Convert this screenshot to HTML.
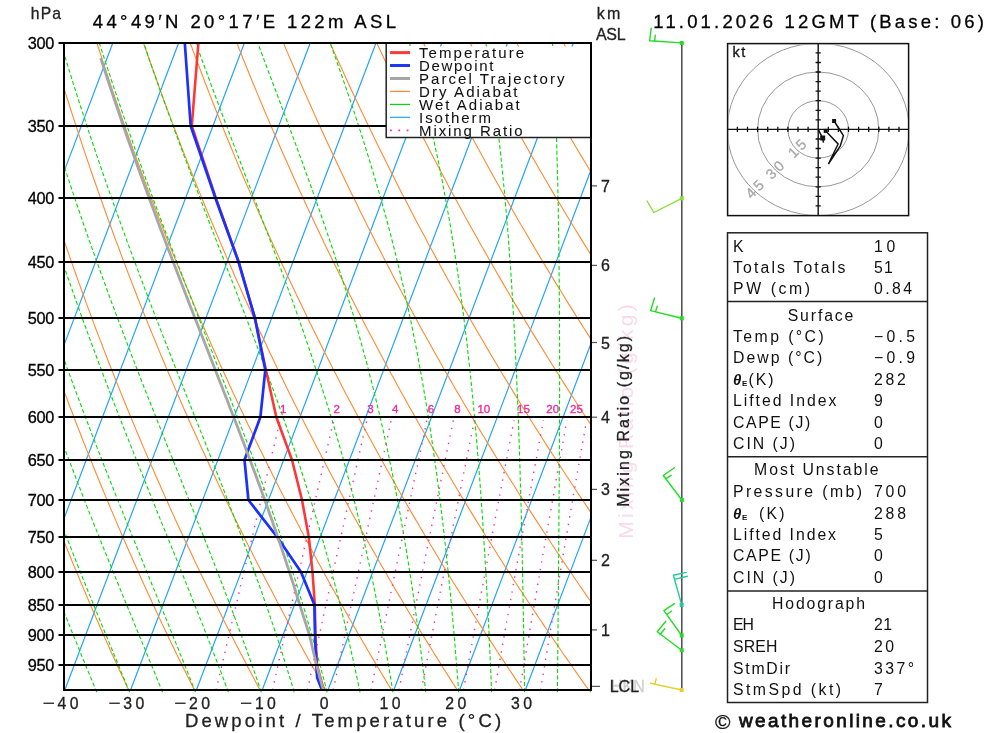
<!DOCTYPE html>
<html><head><meta charset="utf-8"><style>
html,body{margin:0;padding:0;background:#fff;width:1000px;height:733px;overflow:hidden}
svg{display:block;will-change:transform}
text{font-family:"Liberation Sans",sans-serif}
</style></head><body>
<svg width="1000" height="733" viewBox="0 0 1000 733">
<rect width="1000" height="733" fill="#fff"/>
<path d="M64.0 171.6 L112.8 43.0 M64.0 345.1 L178.6 43.0 M64.0 518.6 L244.4 43.0 M65.0 689.5 L310.2 43.0 M130.8 689.5 L376.0 43.0 M196.6 689.5 L441.8 43.0 M262.4 689.5 L507.6 43.0 M328.2 689.5 L573.4 43.0 M394.0 689.5 L590.5 171.3 M459.8 689.5 L590.5 344.8 M525.6 689.5 L590.5 518.4" stroke="#22a4ff" stroke-width="1.2" fill="none"/>
<path d="M128.7 690.0 L128.5 689.6 L127.2 686.9 L125.9 684.2 L124.7 681.4 L123.4 678.6 L122.1 675.9 L120.8 673.1 L119.5 670.3 L118.2 667.5 L117.0 664.6 L115.7 661.8 L114.4 658.9 L113.1 656.1 L111.7 653.2 L110.4 650.3 L109.1 647.3 L107.8 644.4 L106.5 641.4 L105.2 638.5 L103.8 635.5 L102.5 632.5 L101.2 629.5 L99.8 626.4 L98.5 623.4 L97.2 620.3 L95.8 617.2 L94.5 614.1 L93.1 611.0 L91.7 607.8 L90.4 604.7 L89.0 601.5 L87.6 598.3 L86.3 595.1 L84.9 591.8 L83.5 588.6 L82.1 585.3 L80.7 582.0 L79.4 578.7 L78.0 575.3 L76.6 572.0 L75.2 568.6 L73.7 565.2 L72.3 561.8 L70.9 558.3 L69.5 554.8 L68.1 551.3 L66.6 547.8 L65.2 544.3 L64.0 541.3 M194.4 690.0 L194.2 689.6 L192.8 686.9 L191.5 684.2 L190.1 681.4 L188.7 678.6 L187.3 675.9 L186.0 673.1 L184.6 670.3 L183.2 667.5 L181.8 664.6 L180.4 661.8 L179.0 658.9 L177.6 656.1 L176.2 653.2 L174.8 650.3 L173.4 647.3 L172.0 644.4 L170.5 641.4 L169.1 638.5 L167.7 635.5 L166.3 632.5 L164.8 629.5 L163.4 626.4 L161.9 623.4 L160.5 620.3 L159.0 617.2 L157.6 614.1 L156.1 611.0 L154.7 607.8 L153.2 604.7 L151.7 601.5 L150.3 598.3 L148.8 595.1 L147.3 591.8 L145.8 588.6 L144.3 585.3 L142.8 582.0 L141.3 578.7 L139.8 575.3 L138.3 572.0 L136.8 568.6 L135.3 565.2 L133.7 561.8 L132.2 558.3 L130.7 554.8 L129.1 551.3 L127.6 547.8 L126.0 544.3 L124.5 540.7 L122.9 537.2 L121.4 533.5 L119.8 529.9 L118.2 526.3 L116.7 522.6 L115.1 518.9 L113.5 515.1 L111.9 511.4 L110.3 507.6 L108.7 503.8 L107.1 499.9 L105.5 496.1 L103.9 492.2 L102.2 488.3 L100.6 484.3 L99.0 480.3 L97.3 476.3 L95.7 472.3 L94.1 468.2 L92.4 464.1 L90.7 460.0 L89.1 455.8 L87.4 451.6 L85.7 447.4 L84.0 443.1 L82.3 438.8 L80.7 434.5 L79.0 430.1 L77.2 425.7 L75.5 421.3 L73.8 416.8 L72.1 412.3 L70.3 407.8 L68.6 403.2 L66.9 398.5 L65.1 393.9 L64.0 390.9 M260.1 690.0 L259.9 689.6 L258.4 686.9 L257.0 684.2 L255.5 681.4 L254.0 678.6 L252.6 675.9 L251.1 673.1 L249.6 670.3 L248.1 667.5 L246.6 664.6 L245.1 661.8 L243.7 658.9 L242.2 656.1 L240.6 653.2 L239.1 650.3 L237.6 647.3 L236.1 644.4 L234.6 641.4 L233.1 638.5 L231.5 635.5 L230.0 632.5 L228.5 629.5 L226.9 626.4 L225.4 623.4 L223.8 620.3 L222.3 617.2 L220.7 614.1 L219.2 611.0 L217.6 607.8 L216.0 604.7 L214.4 601.5 L212.9 598.3 L211.3 595.1 L209.7 591.8 L208.1 588.6 L206.5 585.3 L204.9 582.0 L203.3 578.7 L201.6 575.3 L200.0 572.0 L198.4 568.6 L196.8 565.2 L195.1 561.8 L193.5 558.3 L191.9 554.8 L190.2 551.3 L188.5 547.8 L186.9 544.3 L185.2 540.7 L183.5 537.2 L181.9 533.5 L180.2 529.9 L178.5 526.3 L176.8 522.6 L175.1 518.9 L173.4 515.1 L171.7 511.4 L170.0 507.6 L168.3 503.8 L166.5 499.9 L164.8 496.1 L163.1 492.2 L161.3 488.3 L159.6 484.3 L157.8 480.3 L156.0 476.3 L154.3 472.3 L152.5 468.2 L150.7 464.1 L148.9 460.0 L147.1 455.8 L145.3 451.6 L143.5 447.4 L141.7 443.1 L139.9 438.8 L138.1 434.5 L136.2 430.1 L134.4 425.7 L132.5 421.3 L130.7 416.8 L128.8 412.3 L126.9 407.8 L125.1 403.2 L123.2 398.5 L121.3 393.9 L119.4 389.2 L117.5 384.4 L115.6 379.6 L113.7 374.8 L111.7 369.9 L109.8 365.0 L107.8 360.0 L105.9 355.0 L103.9 349.9 L102.0 344.8 L100.0 339.6 L98.0 334.4 L96.0 329.2 L94.0 323.9 L92.0 318.5 L90.0 313.1 L88.0 307.6 L85.9 302.1 L83.9 296.5 L81.8 290.8 L79.8 285.1 L77.7 279.4 L75.6 273.5 L73.5 267.6 L71.4 261.7 L69.3 255.6 L67.2 249.5 L65.1 243.4 L64.0 240.2 M325.8 690.0 L325.6 689.6 L324.0 686.9 L322.5 684.2 L320.9 681.4 L319.4 678.6 L317.8 675.9 L316.2 673.1 L314.6 670.3 L313.1 667.5 L311.5 664.6 L309.9 661.8 L308.3 658.9 L306.7 656.1 L305.1 653.2 L303.5 650.3 L301.9 647.3 L300.3 644.4 L298.6 641.4 L297.0 638.5 L295.4 635.5 L293.8 632.5 L292.1 629.5 L290.5 626.4 L288.8 623.4 L287.2 620.3 L285.5 617.2 L283.8 614.1 L282.2 611.0 L280.5 607.8 L278.8 604.7 L277.1 601.5 L275.5 598.3 L273.8 595.1 L272.1 591.8 L270.4 588.6 L268.7 585.3 L266.9 582.0 L265.2 578.7 L263.5 575.3 L261.8 572.0 L260.0 568.6 L258.3 565.2 L256.5 561.8 L254.8 558.3 L253.0 554.8 L251.3 551.3 L249.5 547.8 L247.7 544.3 L245.9 540.7 L244.2 537.2 L242.4 533.5 L240.6 529.9 L238.8 526.3 L236.9 522.6 L235.1 518.9 L233.3 515.1 L231.5 511.4 L229.6 507.6 L227.8 503.8 L225.9 499.9 L224.1 496.1 L222.2 492.2 L220.4 488.3 L218.5 484.3 L216.6 480.3 L214.7 476.3 L212.8 472.3 L210.9 468.2 L209.0 464.1 L207.1 460.0 L205.2 455.8 L203.2 451.6 L201.3 447.4 L199.4 443.1 L197.4 438.8 L195.5 434.5 L193.5 430.1 L191.5 425.7 L189.5 421.3 L187.5 416.8 L185.5 412.3 L183.5 407.8 L181.5 403.2 L179.5 398.5 L177.5 393.9 L175.4 389.2 L173.4 384.4 L171.3 379.6 L169.3 374.8 L167.2 369.9 L165.1 365.0 L163.0 360.0 L160.9 355.0 L158.8 349.9 L156.7 344.8 L154.6 339.6 L152.4 334.4 L150.3 329.2 L148.1 323.9 L146.0 318.5 L143.8 313.1 L141.6 307.6 L139.4 302.1 L137.2 296.5 L135.0 290.8 L132.8 285.1 L130.6 279.4 L128.3 273.5 L126.1 267.6 L123.8 261.7 L121.5 255.6 L119.3 249.5 L117.0 243.4 L114.6 237.1 L112.3 230.8 L110.0 224.5 L107.7 218.0 L105.3 211.5 L102.9 204.8 L100.6 198.1 L98.2 191.4 L95.8 184.5 L93.3 177.5 L90.9 170.5 L88.5 163.3 L86.0 156.1 L83.6 148.8 L81.1 141.3 L78.6 133.8 L76.1 126.1 L73.6 118.4 L71.0 110.5 L68.5 102.5 L65.9 94.4 L64.0 88.3 M391.5 690.0 L391.3 689.6 L389.7 686.9 L388.0 684.2 L386.3 681.4 L384.7 678.6 L383.0 675.9 L381.4 673.1 L379.7 670.3 L378.0 667.5 L376.3 664.6 L374.6 661.8 L372.9 658.9 L371.2 656.1 L369.5 653.2 L367.8 650.3 L366.1 647.3 L364.4 644.4 L362.7 641.4 L361.0 638.5 L359.2 635.5 L357.5 632.5 L355.8 629.5 L354.0 626.4 L352.3 623.4 L350.5 620.3 L348.7 617.2 L347.0 614.1 L345.2 611.0 L343.4 607.8 L341.6 604.7 L339.9 601.5 L338.1 598.3 L336.3 595.1 L334.5 591.8 L332.6 588.6 L330.8 585.3 L329.0 582.0 L327.2 578.7 L325.3 575.3 L323.5 572.0 L321.7 568.6 L319.8 565.2 L317.9 561.8 L316.1 558.3 L314.2 554.8 L312.3 551.3 L310.4 547.8 L308.6 544.3 L306.7 540.7 L304.8 537.2 L302.9 533.5 L300.9 529.9 L299.0 526.3 L297.1 522.6 L295.2 518.9 L293.2 515.1 L291.3 511.4 L289.3 507.6 L287.3 503.8 L285.4 499.9 L283.4 496.1 L281.4 492.2 L279.4 488.3 L277.4 484.3 L275.4 480.3 L273.4 476.3 L271.4 472.3 L269.4 468.2 L267.3 464.1 L265.3 460.0 L263.2 455.8 L261.2 451.6 L259.1 447.4 L257.0 443.1 L254.9 438.8 L252.9 434.5 L250.8 430.1 L248.6 425.7 L246.5 421.3 L244.4 416.8 L242.3 412.3 L240.1 407.8 L238.0 403.2 L235.8 398.5 L233.6 393.9 L231.5 389.2 L229.3 384.4 L227.1 379.6 L224.9 374.8 L222.7 369.9 L220.4 365.0 L218.2 360.0 L216.0 355.0 L213.7 349.9 L211.4 344.8 L209.2 339.6 L206.9 334.4 L204.6 329.2 L202.3 323.9 L200.0 318.5 L197.6 313.1 L195.3 307.6 L193.0 302.1 L190.6 296.5 L188.2 290.8 L185.8 285.1 L183.4 279.4 L181.0 273.5 L178.6 267.6 L176.2 261.7 L173.7 255.6 L171.3 249.5 L168.8 243.4 L166.3 237.1 L163.9 230.8 L161.4 224.5 L158.8 218.0 L156.3 211.5 L153.8 204.8 L151.2 198.1 L148.6 191.4 L146.0 184.5 L143.4 177.5 L140.8 170.5 L138.2 163.3 L135.6 156.1 L132.9 148.8 L130.2 141.3 L127.5 133.8 L124.8 126.1 L122.1 118.4 L119.4 110.5 L116.6 102.5 L113.9 94.4 L111.1 86.2 L108.3 77.8 L105.4 69.3 L102.6 60.7 L99.8 51.9 L96.9 43.0 L96.9 43.0 M457.3 690.0 L457.0 689.6 L455.3 686.9 L453.5 684.2 L451.8 681.4 L450.0 678.6 L448.3 675.9 L446.5 673.1 L444.7 670.3 L442.9 667.5 L441.2 664.6 L439.4 661.8 L437.6 658.9 L435.8 656.1 L434.0 653.2 L432.2 650.3 L430.4 647.3 L428.6 644.4 L426.7 641.4 L424.9 638.5 L423.1 635.5 L421.2 632.5 L419.4 629.5 L417.6 626.4 L415.7 623.4 L413.8 620.3 L412.0 617.2 L410.1 614.1 L408.2 611.0 L406.3 607.8 L404.5 604.7 L402.6 601.5 L400.7 598.3 L398.8 595.1 L396.8 591.8 L394.9 588.6 L393.0 585.3 L391.1 582.0 L389.1 578.7 L387.2 575.3 L385.2 572.0 L383.3 568.6 L381.3 565.2 L379.3 561.8 L377.4 558.3 L375.4 554.8 L373.4 551.3 L371.4 547.8 L369.4 544.3 L367.4 540.7 L365.4 537.2 L363.3 533.5 L361.3 529.9 L359.3 526.3 L357.2 522.6 L355.2 518.9 L353.1 515.1 L351.0 511.4 L349.0 507.6 L346.9 503.8 L344.8 499.9 L342.7 496.1 L340.6 492.2 L338.5 488.3 L336.4 484.3 L334.2 480.3 L332.1 476.3 L329.9 472.3 L327.8 468.2 L325.6 464.1 L323.5 460.0 L321.3 455.8 L319.1 451.6 L316.9 447.4 L314.7 443.1 L312.5 438.8 L310.3 434.5 L308.0 430.1 L305.8 425.7 L303.5 421.3 L301.3 416.8 L299.0 412.3 L296.7 407.8 L294.4 403.2 L292.1 398.5 L289.8 393.9 L287.5 389.2 L285.2 384.4 L282.8 379.6 L280.5 374.8 L278.1 369.9 L275.8 365.0 L273.4 360.0 L271.0 355.0 L268.6 349.9 L266.2 344.8 L263.8 339.6 L261.3 334.4 L258.9 329.2 L256.4 323.9 L253.9 318.5 L251.5 313.1 L249.0 307.6 L246.5 302.1 L243.9 296.5 L241.4 290.8 L238.9 285.1 L236.3 279.4 L233.7 273.5 L231.2 267.6 L228.6 261.7 L226.0 255.6 L223.3 249.5 L220.7 243.4 L218.1 237.1 L215.4 230.8 L212.7 224.5 L210.0 218.0 L207.3 211.5 L204.6 204.8 L201.8 198.1 L199.1 191.4 L196.3 184.5 L193.5 177.5 L190.7 170.5 L187.9 163.3 L185.1 156.1 L182.2 148.8 L179.4 141.3 L176.5 133.8 L173.6 126.1 L170.7 118.4 L167.7 110.5 L164.8 102.5 L161.8 94.4 L158.8 86.2 L155.8 77.8 L152.8 69.3 L149.7 60.7 L146.6 51.9 L143.5 43.0 L143.5 43.0 M523.0 690.0 L522.7 689.6 L520.9 686.9 L519.0 684.2 L517.2 681.4 L515.3 678.6 L513.5 675.9 L511.6 673.1 L509.8 670.3 L507.9 667.5 L506.0 664.6 L504.1 661.8 L502.2 658.9 L500.3 656.1 L498.4 653.2 L496.5 650.3 L494.6 647.3 L492.7 644.4 L490.8 641.4 L488.9 638.5 L486.9 635.5 L485.0 632.5 L483.1 629.5 L481.1 626.4 L479.1 623.4 L477.2 620.3 L475.2 617.2 L473.2 614.1 L471.3 611.0 L469.3 607.8 L467.3 604.7 L465.3 601.5 L463.3 598.3 L461.3 595.1 L459.2 591.8 L457.2 588.6 L455.2 585.3 L453.1 582.0 L451.1 578.7 L449.0 575.3 L447.0 572.0 L444.9 568.6 L442.8 565.2 L440.7 561.8 L438.7 558.3 L436.6 554.8 L434.5 551.3 L432.4 547.8 L430.2 544.3 L428.1 540.7 L426.0 537.2 L423.8 533.5 L421.7 529.9 L419.5 526.3 L417.4 522.6 L415.2 518.9 L413.0 515.1 L410.8 511.4 L408.6 507.6 L406.4 503.8 L404.2 499.9 L402.0 496.1 L399.8 492.2 L397.5 488.3 L395.3 484.3 L393.0 480.3 L390.8 476.3 L388.5 472.3 L386.2 468.2 L383.9 464.1 L381.6 460.0 L379.3 455.8 L377.0 451.6 L374.7 447.4 L372.4 443.1 L370.0 438.8 L367.7 434.5 L365.3 430.1 L362.9 425.7 L360.5 421.3 L358.1 416.8 L355.7 412.3 L353.3 407.8 L350.9 403.2 L348.4 398.5 L346.0 393.9 L343.5 389.2 L341.1 384.4 L338.6 379.6 L336.1 374.8 L333.6 369.9 L331.1 365.0 L328.6 360.0 L326.0 355.0 L323.5 349.9 L320.9 344.8 L318.3 339.6 L315.8 334.4 L313.2 329.2 L310.5 323.9 L307.9 318.5 L305.3 313.1 L302.6 307.6 L300.0 302.1 L297.3 296.5 L294.6 290.8 L291.9 285.1 L289.2 279.4 L286.5 273.5 L283.7 267.6 L280.9 261.7 L278.2 255.6 L275.4 249.5 L272.6 243.4 L269.8 237.1 L266.9 230.8 L264.1 224.5 L261.2 218.0 L258.3 211.5 L255.4 204.8 L252.5 198.1 L249.6 191.4 L246.6 184.5 L243.6 177.5 L240.6 170.5 L237.6 163.3 L234.6 156.1 L231.6 148.8 L228.5 141.3 L225.4 133.8 L222.3 126.1 L219.2 118.4 L216.1 110.5 L212.9 102.5 L209.7 94.4 L206.5 86.2 L203.3 77.8 L200.1 69.3 L196.8 60.7 L193.5 51.9 L190.2 43.0 L190.2 43.0 M588.7 690.0 L588.4 689.6 L586.5 686.9 L584.5 684.2 L582.6 681.4 L580.7 678.6 L578.7 675.9 L576.8 673.1 L574.8 670.3 L572.8 667.5 L570.9 664.6 L568.9 661.8 L566.9 658.9 L564.9 656.1 L562.9 653.2 L560.9 650.3 L558.9 647.3 L556.9 644.4 L554.8 641.4 L552.8 638.5 L550.8 635.5 L548.7 632.5 L546.7 629.5 L544.6 626.4 L542.6 623.4 L540.5 620.3 L538.4 617.2 L536.4 614.1 L534.3 611.0 L532.2 607.8 L530.1 604.7 L528.0 601.5 L525.9 598.3 L523.7 595.1 L521.6 591.8 L519.5 588.6 L517.3 585.3 L515.2 582.0 L513.0 578.7 L510.9 575.3 L508.7 572.0 L506.5 568.6 L504.3 565.2 L502.2 561.8 L500.0 558.3 L497.7 554.8 L495.5 551.3 L493.3 547.8 L491.1 544.3 L488.8 540.7 L486.6 537.2 L484.3 533.5 L482.1 529.9 L479.8 526.3 L477.5 522.6 L475.2 518.9 L472.9 515.1 L470.6 511.4 L468.3 507.6 L466.0 503.8 L463.7 499.9 L461.3 496.1 L459.0 492.2 L456.6 488.3 L454.2 484.3 L451.9 480.3 L449.5 476.3 L447.1 472.3 L444.7 468.2 L442.2 464.1 L439.8 460.0 L437.4 455.8 L434.9 451.6 L432.5 447.4 L430.0 443.1 L427.5 438.8 L425.1 434.5 L422.6 430.1 L420.0 425.7 L417.5 421.3 L415.0 416.8 L412.5 412.3 L409.9 407.8 L407.3 403.2 L404.8 398.5 L402.2 393.9 L399.6 389.2 L397.0 384.4 L394.4 379.6 L391.7 374.8 L389.1 369.9 L386.4 365.0 L383.7 360.0 L381.1 355.0 L378.4 349.9 L375.7 344.8 L372.9 339.6 L370.2 334.4 L367.4 329.2 L364.7 323.9 L361.9 318.5 L359.1 313.1 L356.3 307.6 L353.5 302.1 L350.6 296.5 L347.8 290.8 L344.9 285.1 L342.1 279.4 L339.2 273.5 L336.2 267.6 L333.3 261.7 L330.4 255.6 L327.4 249.5 L324.4 243.4 L321.5 237.1 L318.4 230.8 L315.4 224.5 L312.4 218.0 L309.3 211.5 L306.2 204.8 L303.1 198.1 L300.0 191.4 L296.9 184.5 L293.7 177.5 L290.6 170.5 L287.4 163.3 L284.1 156.1 L280.9 148.8 L277.7 141.3 L274.4 133.8 L271.1 126.1 L267.8 118.4 L264.4 110.5 L261.1 102.5 L257.7 94.4 L254.3 86.2 L250.8 77.8 L247.4 69.3 L243.9 60.7 L240.4 51.9 L236.8 43.0 L236.8 43.0 M590.5 601.2 L588.5 598.3 L586.2 595.1 L584.0 591.8 L581.8 588.6 L579.5 585.3 L577.3 582.0 L575.0 578.7 L572.7 575.3 L570.4 572.0 L568.2 568.6 L565.9 565.2 L563.6 561.8 L561.2 558.3 L558.9 554.8 L556.6 551.3 L554.3 547.8 L551.9 544.3 L549.6 540.7 L547.2 537.2 L544.8 533.5 L542.4 529.9 L540.1 526.3 L537.7 522.6 L535.2 518.9 L532.8 515.1 L530.4 511.4 L528.0 507.6 L525.5 503.8 L523.1 499.9 L520.6 496.1 L518.1 492.2 L515.7 488.3 L513.2 484.3 L510.7 480.3 L508.2 476.3 L505.6 472.3 L503.1 468.2 L500.6 464.1 L498.0 460.0 L495.4 455.8 L492.9 451.6 L490.3 447.4 L487.7 443.1 L485.1 438.8 L482.5 434.5 L479.8 430.1 L477.2 425.7 L474.5 421.3 L471.9 416.8 L469.2 412.3 L466.5 407.8 L463.8 403.2 L461.1 398.5 L458.4 393.9 L455.6 389.2 L452.9 384.4 L450.1 379.6 L447.3 374.8 L444.5 369.9 L441.7 365.0 L438.9 360.0 L436.1 355.0 L433.2 349.9 L430.4 344.8 L427.5 339.6 L424.6 334.4 L421.7 329.2 L418.8 323.9 L415.9 318.5 L412.9 313.1 L410.0 307.6 L407.0 302.1 L404.0 296.5 L401.0 290.8 L398.0 285.1 L394.9 279.4 L391.9 273.5 L388.8 267.6 L385.7 261.7 L382.6 255.6 L379.5 249.5 L376.3 243.4 L373.2 237.1 L370.0 230.8 L366.8 224.5 L363.6 218.0 L360.3 211.5 L357.1 204.8 L353.8 198.1 L350.5 191.4 L347.2 184.5 L343.8 177.5 L340.5 170.5 L337.1 163.3 L333.7 156.1 L330.2 148.8 L326.8 141.3 L323.3 133.8 L319.8 126.1 L316.3 118.4 L312.8 110.5 L309.2 102.5 L305.6 94.4 L302.0 86.2 L298.3 77.8 L294.7 69.3 L291.0 60.7 L287.2 51.9 L283.5 43.0 L283.5 43.0 M590.5 511.8 L590.2 511.4 L587.6 507.6 L585.1 503.8 L582.5 499.9 L579.9 496.1 L577.3 492.2 L574.7 488.3 L572.1 484.3 L569.5 480.3 L566.8 476.3 L564.2 472.3 L561.5 468.2 L558.9 464.1 L556.2 460.0 L553.5 455.8 L550.8 451.6 L548.1 447.4 L545.3 443.1 L542.6 438.8 L539.9 434.5 L537.1 430.1 L534.3 425.7 L531.5 421.3 L528.7 416.8 L525.9 412.3 L523.1 407.8 L520.3 403.2 L517.4 398.5 L514.5 393.9 L511.7 389.2 L508.8 384.4 L505.9 379.6 L502.9 374.8 L500.0 369.9 L497.1 365.0 L494.1 360.0 L491.1 355.0 L488.1 349.9 L485.1 344.8 L482.1 339.6 L479.1 334.4 L476.0 329.2 L472.9 323.9 L469.9 318.5 L466.8 313.1 L463.6 307.6 L460.5 302.1 L457.4 296.5 L454.2 290.8 L451.0 285.1 L447.8 279.4 L444.6 273.5 L441.3 267.6 L438.1 261.7 L434.8 255.6 L431.5 249.5 L428.2 243.4 L424.9 237.1 L421.5 230.8 L418.1 224.5 L414.7 218.0 L411.3 211.5 L407.9 204.8 L404.4 198.1 L400.9 191.4 L397.4 184.5 L393.9 177.5 L390.4 170.5 L386.8 163.3 L383.2 156.1 L379.6 148.8 L375.9 141.3 L372.3 133.8 L368.6 126.1 L364.9 118.4 L361.1 110.5 L357.3 102.5 L353.5 94.4 L349.7 86.2 L345.8 77.8 L342.0 69.3 L338.0 60.7 L334.1 51.9 L330.1 43.0 L330.1 43.0 M590.5 424.3 L588.5 421.3 L585.6 416.8 L582.6 412.3 L579.7 407.8 L576.7 403.2 L573.7 398.5 L570.7 393.9 L567.7 389.2 L564.7 384.4 L561.6 379.6 L558.6 374.8 L555.5 369.9 L552.4 365.0 L549.3 360.0 L546.2 355.0 L543.0 349.9 L539.9 344.8 L536.7 339.6 L533.5 334.4 L530.3 329.2 L527.1 323.9 L523.8 318.5 L520.6 313.1 L517.3 307.6 L514.0 302.1 L510.7 296.5 L507.4 290.8 L504.0 285.1 L500.7 279.4 L497.3 273.5 L493.9 267.6 L490.5 261.7 L487.0 255.6 L483.6 249.5 L480.1 243.4 L476.6 237.1 L473.0 230.8 L469.5 224.5 L465.9 218.0 L462.3 211.5 L458.7 204.8 L455.1 198.1 L451.4 191.4 L447.7 184.5 L444.0 177.5 L440.3 170.5 L436.5 163.3 L432.7 156.1 L428.9 148.8 L425.1 141.3 L421.2 133.8 L417.3 126.1 L413.4 118.4 L409.5 110.5 L405.5 102.5 L401.5 94.4 L397.4 86.2 L393.4 77.8 L389.3 69.3 L385.1 60.7 L381.0 51.9 L376.8 43.0 L376.8 43.0 M590.5 338.4 L587.9 334.4 L584.6 329.2 L581.2 323.9 L577.8 318.5 L574.4 313.1 L571.0 307.6 L567.5 302.1 L564.1 296.5 L560.6 290.8 L557.1 285.1 L553.5 279.4 L550.0 273.5 L546.4 267.6 L542.8 261.7 L539.2 255.6 L535.6 249.5 L531.9 243.4 L528.3 237.1 L524.6 230.8 L520.8 224.5 L517.1 218.0 L513.3 211.5 L509.5 204.8 L505.7 198.1 L501.9 191.4 L498.0 184.5 L494.1 177.5 L490.2 170.5 L486.2 163.3 L482.3 156.1 L478.3 148.8 L474.2 141.3 L470.2 133.8 L466.1 126.1 L462.0 118.4 L457.8 110.5 L453.6 102.5 L449.4 94.4 L445.2 86.2 L440.9 77.8 L436.6 69.3 L432.2 60.7 L427.8 51.9 L423.4 43.0 L423.4 43.0 M590.5 254.1 L587.6 249.5 L583.8 243.4 L580.0 237.1 L576.1 230.8 L572.2 224.5 L568.3 218.0 L564.3 211.5 L560.4 204.8 L556.4 198.1 L552.3 191.4 L548.3 184.5 L544.2 177.5 L540.1 170.5 L536.0 163.3 L531.8 156.1 L527.6 148.8 L523.4 141.3 L519.1 133.8 L514.8 126.1 L510.5 118.4 L506.2 110.5 L501.8 102.5 L497.3 94.4 L492.9 86.2 L488.4 77.8 L483.9 69.3 L479.3 60.7 L474.7 51.9 L470.1 43.0 L470.1 43.0 M590.5 171.3 L590.0 170.5 L585.7 163.3 L581.3 156.1 L576.9 148.8 L572.5 141.3 L568.1 133.8 L563.6 126.1 L559.1 118.4 L554.5 110.5 L549.9 102.5 L545.3 94.4 L540.6 86.2 L535.9 77.8 L531.2 69.3 L526.4 60.7 L521.6 51.9 L516.7 43.0 L516.7 43.0 M590.5 89.8 L588.3 86.2 L583.4 77.8 L578.5 69.3 L573.5 60.7 L568.5 51.9 L563.4 43.0 L563.4 43.0" stroke="#ff8a30" stroke-width="1.1" fill="none"/>
<path d="M96.8 692.3 L95.7 689.6 L94.6 686.9 L93.4 684.2 L92.3 681.4 L91.2 678.6 L90.0 675.9 L88.9 673.1 L87.7 670.3 L86.5 667.5 L85.4 664.6 L84.2 661.8 L83.0 658.9 L81.8 656.1 L80.7 653.2 L79.5 650.3 L78.3 647.3 L77.1 644.4 L75.9 641.4 L74.7 638.5 L73.4 635.5 L72.2 632.5 L71.0 629.5 L69.8 626.4 L68.5 623.4 L67.3 620.3 L66.0 617.2 L64.8 614.1 L64.0 612.1 M129.7 692.3 L128.6 689.6 L127.5 686.9 L126.3 684.2 L125.2 681.4 L124.1 678.6 L122.9 675.9 L121.7 673.1 L120.6 670.3 L119.4 667.5 L118.2 664.6 L117.1 661.8 L115.9 658.9 L114.7 656.1 L113.5 653.2 L112.3 650.3 L111.1 647.3 L109.9 644.4 L108.6 641.4 L107.4 638.5 L106.2 635.5 L104.9 632.5 L103.7 629.5 L102.4 626.4 L101.2 623.4 L99.9 620.3 L98.7 617.2 L97.4 614.1 L96.1 611.0 L94.8 607.8 L93.5 604.7 L92.3 601.5 L91.0 598.3 L89.6 595.1 L88.3 591.8 L87.0 588.6 L85.7 585.3 L84.4 582.0 L83.0 578.7 L81.7 575.3 L80.4 572.0 L79.0 568.6 L77.6 565.2 L76.3 561.8 L74.9 558.3 L73.5 554.8 L72.2 551.3 L70.8 547.8 L69.4 544.3 L68.0 540.7 L66.6 537.2 L65.2 533.5 L64.0 530.5 M162.6 692.3 L161.5 689.6 L160.4 686.9 L159.3 684.2 L158.2 681.4 L157.0 678.6 L155.9 675.9 L154.8 673.1 L153.6 670.3 L152.5 667.5 L151.3 664.6 L150.1 661.8 L148.9 658.9 L147.8 656.1 L146.6 653.2 L145.4 650.3 L144.2 647.3 L142.9 644.4 L141.7 641.4 L140.5 638.5 L139.3 635.5 L138.0 632.5 L136.8 629.5 L135.5 626.4 L134.3 623.4 L133.0 620.3 L131.7 617.2 L130.5 614.1 L129.2 611.0 L127.9 607.8 L126.6 604.7 L125.3 601.5 L124.0 598.3 L122.6 595.1 L121.3 591.8 L120.0 588.6 L118.6 585.3 L117.3 582.0 L115.9 578.7 L114.6 575.3 L113.2 572.0 L111.8 568.6 L110.5 565.2 L109.1 561.8 L107.7 558.3 L106.3 554.8 L104.9 551.3 L103.4 547.8 L102.0 544.3 L100.6 540.7 L99.2 537.2 L97.7 533.5 L96.3 529.9 L94.8 526.3 L93.3 522.6 L91.9 518.9 L90.4 515.1 L88.9 511.4 L87.4 507.6 L85.9 503.8 L84.4 499.9 L82.9 496.1 L81.4 492.2 L79.9 488.3 L78.3 484.3 L76.8 480.3 L75.3 476.3 L73.7 472.3 L72.2 468.2 L70.6 464.1 L69.0 460.0 L67.4 455.8 L65.9 451.6 L64.3 447.4 L64.0 446.7 M195.5 692.3 L194.5 689.6 L193.4 686.9 L192.3 684.2 L191.2 681.4 L190.1 678.6 L189.0 675.9 L187.9 673.1 L186.8 670.3 L185.7 667.5 L184.5 664.6 L183.4 661.8 L182.3 658.9 L181.1 656.1 L179.9 653.2 L178.8 650.3 L177.6 647.3 L176.4 644.4 L175.2 641.4 L174.0 638.5 L172.8 635.5 L171.6 632.5 L170.3 629.5 L169.1 626.4 L167.9 623.4 L166.6 620.3 L165.4 617.2 L164.1 614.1 L162.8 611.0 L161.5 607.8 L160.2 604.7 L158.9 601.5 L157.6 598.3 L156.3 595.1 L155.0 591.8 L153.7 588.6 L152.3 585.3 L151.0 582.0 L149.6 578.7 L148.3 575.3 L146.9 572.0 L145.5 568.6 L144.1 565.2 L142.7 561.8 L141.3 558.3 L139.9 554.8 L138.5 551.3 L137.1 547.8 L135.6 544.3 L134.2 540.7 L132.7 537.2 L131.3 533.5 L129.8 529.9 L128.3 526.3 L126.8 522.6 L125.3 518.9 L123.8 515.1 L122.3 511.4 L120.8 507.6 L119.3 503.8 L117.7 499.9 L116.2 496.1 L114.6 492.2 L113.1 488.3 L111.5 484.3 L109.9 480.3 L108.3 476.3 L106.7 472.3 L105.1 468.2 L103.5 464.1 L101.9 460.0 L100.3 455.8 L98.7 451.6 L97.0 447.4 L95.4 443.1 L93.7 438.8 L92.0 434.5 L90.4 430.1 L88.7 425.7 L87.0 421.3 L85.3 416.8 L83.6 412.3 L81.9 407.8 L80.1 403.2 L78.4 398.5 L76.7 393.9 L74.9 389.2 L73.2 384.4 L71.4 379.6 L69.6 374.8 L67.8 369.9 L66.1 365.0 L64.3 360.0 L64.0 359.3 M228.4 692.3 L227.4 689.6 L226.4 686.9 L225.4 684.2 L224.4 681.4 L223.4 678.6 L222.3 675.9 L221.3 673.1 L220.2 670.3 L219.1 667.5 L218.1 664.6 L217.0 661.8 L215.9 658.9 L214.8 656.1 L213.7 653.2 L212.6 650.3 L211.4 647.3 L210.3 644.4 L209.1 641.4 L208.0 638.5 L206.8 635.5 L205.6 632.5 L204.5 629.5 L203.3 626.4 L202.1 623.4 L200.9 620.3 L199.6 617.2 L198.4 614.1 L197.2 611.0 L195.9 607.8 L194.7 604.7 L193.4 601.5 L192.1 598.3 L190.8 595.1 L189.6 591.8 L188.2 588.6 L186.9 585.3 L185.6 582.0 L184.3 578.7 L182.9 575.3 L181.6 572.0 L180.2 568.6 L178.8 565.2 L177.5 561.8 L176.1 558.3 L174.7 554.8 L173.3 551.3 L171.8 547.8 L170.4 544.3 L169.0 540.7 L167.5 537.2 L166.1 533.5 L164.6 529.9 L163.1 526.3 L161.6 522.6 L160.1 518.9 L158.6 515.1 L157.1 511.4 L155.6 507.6 L154.0 503.8 L152.5 499.9 L150.9 496.1 L149.3 492.2 L147.8 488.3 L146.2 484.3 L144.6 480.3 L143.0 476.3 L141.3 472.3 L139.7 468.2 L138.1 464.1 L136.4 460.0 L134.8 455.8 L133.1 451.6 L131.4 447.4 L129.7 443.1 L128.0 438.8 L126.3 434.5 L124.6 430.1 L122.9 425.7 L121.1 421.3 L119.4 416.8 L117.6 412.3 L115.9 407.8 L114.1 403.2 L112.3 398.5 L110.5 393.9 L108.7 389.2 L106.9 384.4 L105.1 379.6 L103.2 374.8 L101.4 369.9 L99.5 365.0 L97.7 360.0 L95.8 355.0 L93.9 349.9 L92.0 344.8 L90.1 339.6 L88.2 334.4 L86.3 329.2 L84.3 323.9 L82.4 318.5 L80.4 313.1 L78.5 307.6 L76.5 302.1 L74.5 296.5 L72.5 290.8 L70.5 285.1 L68.5 279.4 L66.4 273.5 L64.4 267.6 L64.0 266.4 M261.3 692.3 L260.4 689.6 L259.5 686.9 L258.6 684.2 L257.6 681.4 L256.7 678.6 L255.7 675.9 L254.8 673.1 L253.8 670.3 L252.8 667.5 L251.8 664.6 L250.8 661.8 L249.8 658.9 L248.8 656.1 L247.8 653.2 L246.7 650.3 L245.7 647.3 L244.6 644.4 L243.5 641.4 L242.5 638.5 L241.4 635.5 L240.3 632.5 L239.2 629.5 L238.1 626.4 L236.9 623.4 L235.8 620.3 L234.6 617.2 L233.5 614.1 L232.3 611.0 L231.1 607.8 L229.9 604.7 L228.7 601.5 L227.5 598.3 L226.3 595.1 L225.1 591.8 L223.8 588.6 L222.6 585.3 L221.3 582.0 L220.0 578.7 L218.7 575.3 L217.4 572.0 L216.1 568.6 L214.8 565.2 L213.5 561.8 L212.1 558.3 L210.8 554.8 L209.4 551.3 L208.0 547.8 L206.6 544.3 L205.2 540.7 L203.8 537.2 L202.4 533.5 L200.9 529.9 L199.5 526.3 L198.0 522.6 L196.6 518.9 L195.1 515.1 L193.6 511.4 L192.1 507.6 L190.5 503.8 L189.0 499.9 L187.5 496.1 L185.9 492.2 L184.3 488.3 L182.7 484.3 L181.1 480.3 L179.5 476.3 L177.9 472.3 L176.3 468.2 L174.6 464.1 L173.0 460.0 L171.3 455.8 L169.6 451.6 L167.9 447.4 L166.2 443.1 L164.5 438.8 L162.8 434.5 L161.1 430.1 L159.3 425.7 L157.5 421.3 L155.8 416.8 L154.0 412.3 L152.2 407.8 L150.4 403.2 L148.5 398.5 L146.7 393.9 L144.8 389.2 L143.0 384.4 L141.1 379.6 L139.2 374.8 L137.3 369.9 L135.4 365.0 L133.5 360.0 L131.5 355.0 L129.6 349.9 L127.6 344.8 L125.7 339.6 L123.7 334.4 L121.7 329.2 L119.7 323.9 L117.7 318.5 L115.6 313.1 L113.6 307.6 L111.5 302.1 L109.5 296.5 L107.4 290.8 L105.3 285.1 L103.2 279.4 L101.1 273.5 L99.0 267.6 L96.8 261.7 L94.7 255.6 L92.5 249.5 L90.3 243.4 L88.1 237.1 L85.9 230.8 L83.7 224.5 L81.5 218.0 L79.3 211.5 L77.0 204.8 L74.8 198.1 L72.5 191.4 L70.2 184.5 L67.9 177.5 L65.6 170.5 L64.0 165.6 M294.2 692.3 L293.4 689.6 L292.6 686.9 L291.8 684.2 L291.0 681.4 L290.1 678.6 L289.3 675.9 L288.4 673.1 L287.6 670.3 L286.7 667.5 L285.8 664.6 L284.9 661.8 L284.0 658.9 L283.1 656.1 L282.2 653.2 L281.2 650.3 L280.3 647.3 L279.4 644.4 L278.4 641.4 L277.4 638.5 L276.4 635.5 L275.5 632.5 L274.5 629.5 L273.4 626.4 L272.4 623.4 L271.4 620.3 L270.3 617.2 L269.3 614.1 L268.2 611.0 L267.1 607.8 L266.1 604.7 L265.0 601.5 L263.8 598.3 L262.7 595.1 L261.6 591.8 L260.4 588.6 L259.3 585.3 L258.1 582.0 L256.9 578.7 L255.7 575.3 L254.5 572.0 L253.3 568.6 L252.1 565.2 L250.8 561.8 L249.6 558.3 L248.3 554.8 L247.0 551.3 L245.7 547.8 L244.4 544.3 L243.1 540.7 L241.7 537.2 L240.4 533.5 L239.0 529.9 L237.6 526.3 L236.3 522.6 L234.8 518.9 L233.4 515.1 L232.0 511.4 L230.5 507.6 L229.1 503.8 L227.6 499.9 L226.1 496.1 L224.6 492.2 L223.1 488.3 L221.5 484.3 L220.0 480.3 L218.4 476.3 L216.8 472.3 L215.2 468.2 L213.6 464.1 L212.0 460.0 L210.4 455.8 L208.7 451.6 L207.0 447.4 L205.4 443.1 L203.7 438.8 L201.9 434.5 L200.2 430.1 L198.5 425.7 L196.7 421.3 L194.9 416.8 L193.1 412.3 L191.3 407.8 L189.5 403.2 L187.7 398.5 L185.8 393.9 L184.0 389.2 L182.1 384.4 L180.2 379.6 L178.3 374.8 L176.3 369.9 L174.4 365.0 L172.4 360.0 L170.5 355.0 L168.5 349.9 L166.5 344.8 L164.5 339.6 L162.4 334.4 L160.4 329.2 L158.3 323.9 L156.2 318.5 L154.2 313.1 L152.0 307.6 L149.9 302.1 L147.8 296.5 L145.6 290.8 L143.5 285.1 L141.3 279.4 L139.1 273.5 L136.9 267.6 L134.7 261.7 L132.4 255.6 L130.2 249.5 L127.9 243.4 L125.6 237.1 L123.3 230.8 L121.0 224.5 L118.7 218.0 L116.3 211.5 L114.0 204.8 L111.6 198.1 L109.2 191.4 L106.8 184.5 L104.4 177.5 L101.9 170.5 L99.5 163.3 L97.0 156.1 L94.5 148.8 L92.0 141.3 L89.5 133.8 L87.0 126.1 L84.5 118.4 L81.9 110.5 L79.3 102.5 L76.7 94.4 L74.1 86.2 L71.5 77.8 L68.9 69.3 L66.2 60.7 L64.0 53.4 M327.1 692.3 L326.5 689.6 L325.8 686.9 L325.1 684.2 L324.4 681.4 L323.6 678.6 L322.9 675.9 L322.2 673.1 L321.4 670.3 L320.7 667.5 L319.9 664.6 L319.2 661.8 L318.4 658.9 L317.6 656.1 L316.8 653.2 L316.0 650.3 L315.2 647.3 L314.4 644.4 L313.6 641.4 L312.7 638.5 L311.9 635.5 L311.0 632.5 L310.2 629.5 L309.3 626.4 L308.4 623.4 L307.5 620.3 L306.6 617.2 L305.7 614.1 L304.8 611.0 L303.8 607.8 L302.9 604.7 L301.9 601.5 L300.9 598.3 L299.9 595.1 L298.9 591.8 L297.9 588.6 L296.9 585.3 L295.9 582.0 L294.8 578.7 L293.8 575.3 L292.7 572.0 L291.6 568.6 L290.5 565.2 L289.4 561.8 L288.3 558.3 L287.1 554.8 L286.0 551.3 L284.8 547.8 L283.6 544.3 L282.4 540.7 L281.2 537.2 L280.0 533.5 L278.7 529.9 L277.5 526.3 L276.2 522.6 L274.9 518.9 L273.6 515.1 L272.3 511.4 L271.0 507.6 L269.6 503.8 L268.3 499.9 L266.9 496.1 L265.5 492.2 L264.1 488.3 L262.6 484.3 L261.2 480.3 L259.7 476.3 L258.2 472.3 L256.7 468.2 L255.2 464.1 L253.7 460.0 L252.1 455.8 L250.6 451.6 L249.0 447.4 L247.4 443.1 L245.7 438.8 L244.1 434.5 L242.4 430.1 L240.8 425.7 L239.1 421.3 L237.3 416.8 L235.6 412.3 L233.8 407.8 L232.1 403.2 L230.3 398.5 L228.5 393.9 L226.6 389.2 L224.8 384.4 L222.9 379.6 L221.0 374.8 L219.1 369.9 L217.2 365.0 L215.2 360.0 L213.3 355.0 L211.3 349.9 L209.3 344.8 L207.2 339.6 L205.2 334.4 L203.1 329.2 L201.1 323.9 L199.0 318.5 L196.8 313.1 L194.7 307.6 L192.5 302.1 L190.4 296.5 L188.2 290.8 L185.9 285.1 L183.7 279.4 L181.5 273.5 L179.2 267.6 L176.9 261.7 L174.6 255.6 L172.2 249.5 L169.9 243.4 L167.5 237.1 L165.1 230.8 L162.7 224.5 L160.3 218.0 L157.9 211.5 L155.4 204.8 L152.9 198.1 L150.4 191.4 L147.9 184.5 L145.4 177.5 L142.8 170.5 L140.2 163.3 L137.6 156.1 L135.0 148.8 L132.4 141.3 L129.7 133.8 L127.1 126.1 L124.4 118.4 L121.7 110.5 L119.0 102.5 L116.2 94.4 L113.4 86.2 L110.7 77.8 L107.9 69.3 L105.0 60.7 L102.2 51.9 L99.3 43.0 L99.3 43.0 M360.0 692.3 L359.5 689.6 L358.9 686.9 L358.3 684.2 L357.8 681.4 L357.2 678.6 L356.6 675.9 L356.0 673.1 L355.4 670.3 L354.8 667.5 L354.2 664.6 L353.6 661.8 L352.9 658.9 L352.3 656.1 L351.6 653.2 L351.0 650.3 L350.3 647.3 L349.6 644.4 L349.0 641.4 L348.3 638.5 L347.6 635.5 L346.9 632.5 L346.2 629.5 L345.4 626.4 L344.7 623.4 L344.0 620.3 L343.2 617.2 L342.4 614.1 L341.7 611.0 L340.9 607.8 L340.1 604.7 L339.3 601.5 L338.5 598.3 L337.7 595.1 L336.8 591.8 L336.0 588.6 L335.1 585.3 L334.3 582.0 L333.4 578.7 L332.5 575.3 L331.6 572.0 L330.7 568.6 L329.8 565.2 L328.8 561.8 L327.9 558.3 L326.9 554.8 L325.9 551.3 L324.9 547.8 L323.9 544.3 L322.9 540.7 L321.9 537.2 L320.8 533.5 L319.7 529.9 L318.7 526.3 L317.6 522.6 L316.5 518.9 L315.3 515.1 L314.2 511.4 L313.0 507.6 L311.9 503.8 L310.7 499.9 L309.5 496.1 L308.2 492.2 L307.0 488.3 L305.7 484.3 L304.5 480.3 L303.2 476.3 L301.8 472.3 L300.5 468.2 L299.2 464.1 L297.8 460.0 L296.4 455.8 L295.0 451.6 L293.6 447.4 L292.1 443.1 L290.6 438.8 L289.1 434.5 L287.6 430.1 L286.1 425.7 L284.5 421.3 L282.9 416.8 L281.3 412.3 L279.7 407.8 L278.1 403.2 L276.4 398.5 L274.7 393.9 L273.0 389.2 L271.3 384.4 L269.5 379.6 L267.7 374.8 L265.9 369.9 L264.1 365.0 L262.2 360.0 L260.3 355.0 L258.4 349.9 L256.5 344.8 L254.5 339.6 L252.6 334.4 L250.5 329.2 L248.5 323.9 L246.5 318.5 L244.4 313.1 L242.3 307.6 L240.1 302.1 L238.0 296.5 L235.8 290.8 L233.6 285.1 L231.4 279.4 L229.1 273.5 L226.8 267.6 L224.5 261.7 L222.2 255.6 L219.8 249.5 L217.4 243.4 L215.0 237.1 L212.6 230.8 L210.1 224.5 L207.7 218.0 L205.1 211.5 L202.6 204.8 L200.0 198.1 L197.5 191.4 L194.9 184.5 L192.2 177.5 L189.6 170.5 L186.9 163.3 L184.2 156.1 L181.4 148.8 L178.7 141.3 L175.9 133.8 L173.1 126.1 L170.3 118.4 L167.4 110.5 L164.5 102.5 L161.6 94.4 L158.7 86.2 L155.8 77.8 L152.8 69.3 L149.8 60.7 L146.8 51.9 L143.7 43.0 L143.7 43.0 M392.9 692.3 L392.5 689.6 L392.1 686.9 L391.6 684.2 L391.2 681.4 L390.7 678.6 L390.3 675.9 L389.8 673.1 L389.4 670.3 L388.9 667.5 L388.4 664.6 L387.9 661.8 L387.4 658.9 L386.9 656.1 L386.4 653.2 L385.9 650.3 L385.4 647.3 L384.9 644.4 L384.4 641.4 L383.8 638.5 L383.3 635.5 L382.7 632.5 L382.2 629.5 L381.6 626.4 L381.0 623.4 L380.5 620.3 L379.9 617.2 L379.3 614.1 L378.7 611.0 L378.1 607.8 L377.5 604.7 L376.8 601.5 L376.2 598.3 L375.6 595.1 L374.9 591.8 L374.2 588.6 L373.6 585.3 L372.9 582.0 L372.2 578.7 L371.5 575.3 L370.8 572.0 L370.1 568.6 L369.3 565.2 L368.6 561.8 L367.8 558.3 L367.1 554.8 L366.3 551.3 L365.5 547.8 L364.7 544.3 L363.9 540.7 L363.1 537.2 L362.2 533.5 L361.4 529.9 L360.5 526.3 L359.6 522.6 L358.7 518.9 L357.8 515.1 L356.9 511.4 L356.0 507.6 L355.0 503.8 L354.1 499.9 L353.1 496.1 L352.1 492.2 L351.1 488.3 L350.0 484.3 L349.0 480.3 L347.9 476.3 L346.8 472.3 L345.8 468.2 L344.6 464.1 L343.5 460.0 L342.3 455.8 L341.2 451.6 L340.0 447.4 L338.8 443.1 L337.5 438.8 L336.3 434.5 L335.0 430.1 L333.7 425.7 L332.4 421.3 L331.0 416.8 L329.6 412.3 L328.3 407.8 L326.8 403.2 L325.4 398.5 L323.9 393.9 L322.4 389.2 L320.9 384.4 L319.4 379.6 L317.8 374.8 L316.2 369.9 L314.6 365.0 L313.0 360.0 L311.3 355.0 L309.6 349.9 L307.8 344.8 L306.1 339.6 L304.3 334.4 L302.5 329.2 L300.6 323.9 L298.7 318.5 L296.8 313.1 L294.8 307.6 L292.9 302.1 L290.9 296.5 L288.8 290.8 L286.7 285.1 L284.6 279.4 L282.5 273.5 L280.3 267.6 L278.1 261.7 L275.8 255.6 L273.6 249.5 L271.3 243.4 L268.9 237.1 L266.5 230.8 L264.1 224.5 L261.7 218.0 L259.2 211.5 L256.7 204.8 L254.1 198.1 L251.5 191.4 L248.9 184.5 L246.2 177.5 L243.5 170.5 L240.8 163.3 L238.1 156.1 L235.3 148.8 L232.4 141.3 L229.6 133.8 L226.7 126.1 L223.7 118.4 L220.8 110.5 L217.8 102.5 L214.8 94.4 L211.7 86.2 L208.6 77.8 L205.5 69.3 L202.3 60.7 L199.1 51.9 L195.9 43.0 L195.9 43.0 M425.8 692.3 L425.5 689.6 L425.2 686.9 L424.9 684.2 L424.6 681.4 L424.2 678.6 L423.9 675.9 L423.6 673.1 L423.2 670.3 L422.9 667.5 L422.6 664.6 L422.2 661.8 L421.9 658.9 L421.5 656.1 L421.1 653.2 L420.8 650.3 L420.4 647.3 L420.0 644.4 L419.6 641.4 L419.2 638.5 L418.9 635.5 L418.5 632.5 L418.1 629.5 L417.6 626.4 L417.2 623.4 L416.8 620.3 L416.4 617.2 L416.0 614.1 L415.5 611.0 L415.1 607.8 L414.6 604.7 L414.2 601.5 L413.7 598.3 L413.2 595.1 L412.8 591.8 L412.3 588.6 L411.8 585.3 L411.3 582.0 L410.8 578.7 L410.3 575.3 L409.8 572.0 L409.2 568.6 L408.7 565.2 L408.2 561.8 L407.6 558.3 L407.0 554.8 L406.5 551.3 L405.9 547.8 L405.3 544.3 L404.7 540.7 L404.1 537.2 L403.5 533.5 L402.9 529.9 L402.2 526.3 L401.6 522.6 L400.9 518.9 L400.3 515.1 L399.6 511.4 L398.9 507.6 L398.2 503.8 L397.5 499.9 L396.7 496.1 L396.0 492.2 L395.2 488.3 L394.5 484.3 L393.7 480.3 L392.9 476.3 L392.1 472.3 L391.3 468.2 L390.4 464.1 L389.6 460.0 L388.7 455.8 L387.8 451.6 L386.9 447.4 L386.0 443.1 L385.0 438.8 L384.1 434.5 L383.1 430.1 L382.1 425.7 L381.1 421.3 L380.0 416.8 L379.0 412.3 L377.9 407.8 L376.8 403.2 L375.7 398.5 L374.5 393.9 L373.4 389.2 L372.2 384.4 L371.0 379.6 L369.7 374.8 L368.5 369.9 L367.2 365.0 L365.9 360.0 L364.5 355.0 L363.1 349.9 L361.7 344.8 L360.3 339.6 L358.8 334.4 L357.3 329.2 L355.8 323.9 L354.3 318.5 L352.7 313.1 L351.0 307.6 L349.4 302.1 L347.7 296.5 L346.0 290.8 L344.2 285.1 L342.4 279.4 L340.5 273.5 L338.7 267.6 L336.7 261.7 L334.8 255.6 L332.8 249.5 L330.7 243.4 L328.6 237.1 L326.5 230.8 L324.3 224.5 L322.1 218.0 L319.8 211.5 L317.5 204.8 L315.2 198.1 L312.8 191.4 L310.3 184.5 L307.8 177.5 L305.2 170.5 L302.7 163.3 L300.0 156.1 L297.3 148.8 L294.6 141.3 L291.8 133.8 L288.9 126.1 L286.0 118.4 L283.1 110.5 L280.1 102.5 L277.1 94.4 L274.0 86.2 L270.8 77.8 L267.6 69.3 L264.4 60.7 L261.1 51.9 L257.8 43.0 L257.8 43.0 M458.7 692.3 L458.5 689.6 L458.3 686.9 L458.1 684.2 L457.9 681.4 L457.7 678.6 L457.5 675.9 L457.3 673.1 L457.0 670.3 L456.8 667.5 L456.6 664.6 L456.4 661.8 L456.1 658.9 L455.9 656.1 L455.6 653.2 L455.4 650.3 L455.2 647.3 L454.9 644.4 L454.7 641.4 L454.4 638.5 L454.1 635.5 L453.9 632.5 L453.6 629.5 L453.3 626.4 L453.1 623.4 L452.8 620.3 L452.5 617.2 L452.2 614.1 L452.0 611.0 L451.7 607.8 L451.4 604.7 L451.1 601.5 L450.8 598.3 L450.5 595.1 L450.1 591.8 L449.8 588.6 L449.5 585.3 L449.2 582.0 L448.8 578.7 L448.5 575.3 L448.2 572.0 L447.8 568.6 L447.5 565.2 L447.1 561.8 L446.7 558.3 L446.4 554.8 L446.0 551.3 L445.6 547.8 L445.2 544.3 L444.8 540.7 L444.4 537.2 L444.0 533.5 L443.6 529.9 L443.2 526.3 L442.8 522.6 L442.3 518.9 L441.9 515.1 L441.4 511.4 L441.0 507.6 L440.5 503.8 L440.0 499.9 L439.5 496.1 L439.0 492.2 L438.5 488.3 L438.0 484.3 L437.5 480.3 L437.0 476.3 L436.4 472.3 L435.9 468.2 L435.3 464.1 L434.7 460.0 L434.1 455.8 L433.5 451.6 L432.9 447.4 L432.3 443.1 L431.7 438.8 L431.0 434.5 L430.4 430.1 L429.7 425.7 L429.0 421.3 L428.3 416.8 L427.6 412.3 L426.8 407.8 L426.1 403.2 L425.3 398.5 L424.5 393.9 L423.7 389.2 L422.9 384.4 L422.1 379.6 L421.2 374.8 L420.3 369.9 L419.4 365.0 L418.5 360.0 L417.6 355.0 L416.6 349.9 L415.6 344.8 L414.6 339.6 L413.5 334.4 L412.5 329.2 L411.4 323.9 L410.3 318.5 L409.1 313.1 L408.0 307.6 L406.8 302.1 L405.5 296.5 L404.3 290.8 L403.0 285.1 L401.6 279.4 L400.3 273.5 L398.8 267.6 L397.4 261.7 L395.9 255.6 L394.4 249.5 L392.8 243.4 L391.2 237.1 L389.6 230.8 L387.9 224.5 L386.2 218.0 L384.4 211.5 L382.5 204.8 L380.7 198.1 L378.7 191.4 L376.7 184.5 L374.7 177.5 L372.6 170.5 L370.4 163.3 L368.2 156.1 L365.9 148.8 L363.6 141.3 L361.2 133.8 L358.7 126.1 L356.2 118.4 L353.6 110.5 L350.9 102.5 L348.2 94.4 L345.4 86.2 L342.5 77.8 L339.5 69.3 L336.5 60.7 L333.4 51.9 L330.2 43.0 L330.2 43.0 M491.6 692.3 L491.5 689.6 L491.4 686.9 L491.3 684.2 L491.2 681.4 L491.1 678.6 L490.9 675.9 L490.8 673.1 L490.7 670.3 L490.6 667.5 L490.4 664.6 L490.3 661.8 L490.2 658.9 L490.1 656.1 L489.9 653.2 L489.8 650.3 L489.7 647.3 L489.5 644.4 L489.4 641.4 L489.2 638.5 L489.1 635.5 L489.0 632.5 L488.8 629.5 L488.7 626.4 L488.5 623.4 L488.4 620.3 L488.2 617.2 L488.0 614.1 L487.9 611.0 L487.7 607.8 L487.6 604.7 L487.4 601.5 L487.2 598.3 L487.1 595.1 L486.9 591.8 L486.7 588.6 L486.5 585.3 L486.3 582.0 L486.2 578.7 L486.0 575.3 L485.8 572.0 L485.6 568.6 L485.4 565.2 L485.2 561.8 L485.0 558.3 L484.8 554.8 L484.6 551.3 L484.4 547.8 L484.1 544.3 L483.9 540.7 L483.7 537.2 L483.5 533.5 L483.2 529.9 L483.0 526.3 L482.8 522.6 L482.5 518.9 L482.3 515.1 L482.0 511.4 L481.7 507.6 L481.5 503.8 L481.2 499.9 L480.9 496.1 L480.7 492.2 L480.4 488.3 L480.1 484.3 L479.8 480.3 L479.5 476.3 L479.2 472.3 L478.9 468.2 L478.5 464.1 L478.2 460.0 L477.9 455.8 L477.5 451.6 L477.2 447.4 L476.8 443.1 L476.5 438.8 L476.1 434.5 L475.7 430.1 L475.3 425.7 L474.9 421.3 L474.5 416.8 L474.1 412.3 L473.7 407.8 L473.2 403.2 L472.8 398.5 L472.3 393.9 L471.9 389.2 L471.4 384.4 L470.9 379.6 L470.4 374.8 L469.9 369.9 L469.3 365.0 L468.8 360.0 L468.2 355.0 L467.7 349.9 L467.1 344.8 L466.5 339.6 L465.9 334.4 L465.2 329.2 L464.6 323.9 L463.9 318.5 L463.2 313.1 L462.5 307.6 L461.8 302.1 L461.0 296.5 L460.3 290.8 L459.5 285.1 L458.7 279.4 L457.8 273.5 L457.0 267.6 L456.1 261.7 L455.1 255.6 L454.2 249.5 L453.2 243.4 L452.2 237.1 L451.2 230.8 L450.1 224.5 L449.0 218.0 L447.8 211.5 L446.6 204.8 L445.4 198.1 L444.2 191.4 L442.9 184.5 L441.5 177.5 L440.1 170.5 L438.7 163.3 L437.2 156.1 L435.6 148.8 L434.0 141.3 L432.3 133.8 L430.6 126.1 L428.8 118.4 L427.0 110.5 L425.0 102.5 L423.0 94.4 L421.0 86.2 L418.8 77.8 L416.6 69.3 L414.3 60.7 L411.9 51.9 L409.4 43.0 L409.4 43.0 M524.5 692.3 L524.5 689.6 L524.5 686.9 L524.4 684.2 L524.4 681.4 L524.3 678.6 L524.3 675.9 L524.3 673.1 L524.2 670.3 L524.2 667.5 L524.1 664.6 L524.1 661.8 L524.1 658.9 L524.0 656.1 L524.0 653.2 L523.9 650.3 L523.9 647.3 L523.8 644.4 L523.8 641.4 L523.7 638.5 L523.7 635.5 L523.6 632.5 L523.6 629.5 L523.5 626.4 L523.5 623.4 L523.4 620.3 L523.4 617.2 L523.3 614.1 L523.3 611.0 L523.2 607.8 L523.2 604.7 L523.1 601.5 L523.1 598.3 L523.0 595.1 L522.9 591.8 L522.9 588.6 L522.8 585.3 L522.7 582.0 L522.7 578.7 L522.6 575.3 L522.6 572.0 L522.5 568.6 L522.4 565.2 L522.3 561.8 L522.3 558.3 L522.2 554.8 L522.1 551.3 L522.0 547.8 L522.0 544.3 L521.9 540.7 L521.8 537.2 L521.7 533.5 L521.6 529.9 L521.5 526.3 L521.5 522.6 L521.4 518.9 L521.3 515.1 L521.2 511.4 L521.1 507.6 L521.0 503.8 L520.9 499.9 L520.8 496.1 L520.7 492.2 L520.6 488.3 L520.4 484.3 L520.3 480.3 L520.2 476.3 L520.1 472.3 L520.0 468.2 L519.8 464.1 L519.7 460.0 L519.6 455.8 L519.4 451.6 L519.3 447.4 L519.2 443.1 L519.0 438.8 L518.9 434.5 L518.7 430.1 L518.6 425.7 L518.4 421.3 L518.2 416.8 L518.1 412.3 L517.9 407.8 L517.7 403.2 L517.5 398.5 L517.3 393.9 L517.1 389.2 L516.9 384.4 L516.7 379.6 L516.5 374.8 L516.3 369.9 L516.0 365.0 L515.8 360.0 L515.6 355.0 L515.3 349.9 L515.1 344.8 L514.8 339.6 L514.5 334.4 L514.3 329.2 L514.0 323.9 L513.7 318.5 L513.4 313.1 L513.0 307.6 L512.7 302.1 L512.4 296.5 L512.0 290.8 L511.7 285.1 L511.3 279.4 L510.9 273.5 L510.5 267.6 L510.1 261.7 L509.6 255.6 L509.2 249.5 L508.7 243.4 L508.3 237.1 L507.8 230.8 L507.2 224.5 L506.7 218.0 L506.2 211.5 L505.6 204.8 L505.0 198.1 L504.4 191.4 L503.7 184.5 L503.0 177.5 L502.3 170.5 L501.6 163.3 L500.9 156.1 L500.1 148.8 L499.2 141.3 L498.4 133.8 L497.5 126.1 L496.5 118.4 L495.6 110.5 L494.5 102.5 L493.5 94.4 L492.4 86.2 L491.2 77.8 L490.0 69.3 L488.7 60.7 L487.3 51.9 L485.9 43.0 L485.9 43.0 M557.4 692.3 L557.5 689.6 L557.5 686.9 L557.5 684.2 L557.5 681.4 L557.6 678.6 L557.6 675.9 L557.6 673.1 L557.6 670.3 L557.7 667.5 L557.7 664.6 L557.7 661.8 L557.7 658.9 L557.8 656.1 L557.8 653.2 L557.8 650.3 L557.8 647.3 L557.9 644.4 L557.9 641.4 L557.9 638.5 L558.0 635.5 L558.0 632.5 L558.0 629.5 L558.0 626.4 L558.1 623.4 L558.1 620.3 L558.1 617.2 L558.1 614.1 L558.2 611.0 L558.2 607.8 L558.2 604.7 L558.3 601.5 L558.3 598.3 L558.3 595.1 L558.3 591.8 L558.4 588.6 L558.4 585.3 L558.4 582.0 L558.5 578.7 L558.5 575.3 L558.5 572.0 L558.5 568.6 L558.6 565.2 L558.6 561.8 L558.6 558.3 L558.7 554.8 L558.7 551.3 L558.7 547.8 L558.8 544.3 L558.8 540.7 L558.8 537.2 L558.8 533.5 L558.9 529.9 L558.9 526.3 L558.9 522.6 L558.9 518.9 L559.0 515.1 L559.0 511.4 L559.0 507.6 L559.1 503.8 L559.1 499.9 L559.1 496.1 L559.1 492.2 L559.2 488.3 L559.2 484.3 L559.2 480.3 L559.2 476.3 L559.3 472.3 L559.3 468.2 L559.3 464.1 L559.3 460.0 L559.4 455.8 L559.4 451.6 L559.4 447.4 L559.4 443.1 L559.4 438.8 L559.4 434.5 L559.5 430.1 L559.5 425.7 L559.5 421.3 L559.5 416.8 L559.5 412.3 L559.5 407.8 L559.5 403.2 L559.6 398.5 L559.6 393.9 L559.6 389.2 L559.6 384.4 L559.6 379.6 L559.6 374.8 L559.6 369.9 L559.6 365.0 L559.6 360.0 L559.6 355.0 L559.6 349.9 L559.6 344.8 L559.5 339.6 L559.5 334.4 L559.5 329.2 L559.5 323.9 L559.5 318.5 L559.4 313.1 L559.4 307.6 L559.4 302.1 L559.3 296.5 L559.3 290.8 L559.2 285.1 L559.2 279.4 L559.1 273.5 L559.1 267.6 L559.0 261.7 L559.0 255.6 L558.9 249.5 L558.8 243.4 L558.7 237.1 L558.6 230.8 L558.5 224.5 L558.4 218.0 L558.3 211.5 L558.2 204.8 L558.0 198.1 L557.9 191.4 L557.8 184.5 L557.6 177.5 L557.4 170.5 L557.2 163.3 L557.0 156.1 L556.8 148.8 L556.6 141.3 L556.4 133.8 L556.1 126.1 L555.9 118.4 L555.6 110.5 L555.3 102.5 L554.9 94.4 L554.6 86.2 L554.2 77.8 L553.8 69.3 L553.4 60.7 L553.0 51.9 L552.5 43.0 L552.5 43.0 M590.3 692.3 L590.4 689.6 L590.5 686.9 L590.5 686.2" stroke="#00dd00" stroke-width="1.1" stroke-dasharray="4 2.4" fill="none"/>
<path d="M216.1 690.0 L216.8 686.9 L218.1 681.4 L219.4 675.9 L220.7 670.3 L222.0 664.6 L223.4 658.9 L224.7 653.2 L226.1 647.3 L227.5 641.4 L228.9 635.5 L230.3 629.5 L231.7 623.4 L233.2 617.2 L234.7 611.0 L236.2 604.7 L237.7 598.3 L239.2 591.8 L240.7 585.3 L242.3 578.7 L243.9 572.0 L245.5 565.2 L247.1 558.3 L248.8 551.3 L250.5 544.3 L252.2 537.2 L253.9 529.9 L255.6 522.6 L257.4 515.1 L259.2 507.6 L261.1 499.9 L262.9 492.2 L264.8 484.3 L266.7 476.3 L268.7 468.2 L270.6 460.0 L272.6 451.6 L274.7 443.1 L276.8 434.5 L278.9 425.7 L280.2 420.3 M272.5 690.0 L273.1 686.9 L274.4 681.4 L275.6 675.9 L276.8 670.3 L278.1 664.6 L279.4 658.9 L280.7 653.2 L282.0 647.3 L283.3 641.4 L284.6 635.5 L286.0 629.5 L287.4 623.4 L288.8 617.2 L290.2 611.0 L291.6 604.7 L293.0 598.3 L294.5 591.8 L295.9 585.3 L297.4 578.7 L299.0 572.0 L300.5 565.2 L302.1 558.3 L303.6 551.3 L305.2 544.3 L306.9 537.2 L308.5 529.9 L310.2 522.6 L311.9 515.1 L313.6 507.6 L315.3 499.9 L317.1 492.2 L318.9 484.3 L320.8 476.3 L322.6 468.2 L324.5 460.0 L326.4 451.6 L328.4 443.1 L330.4 434.5 L332.4 425.7 L333.6 420.3 M307.4 690.0 L308.1 686.9 L309.3 681.4 L310.5 675.9 L311.7 670.3 L312.9 664.6 L314.2 658.9 L315.4 653.2 L316.7 647.3 L318.0 641.4 L319.2 635.5 L320.6 629.5 L321.9 623.4 L323.2 617.2 L324.6 611.0 L326.0 604.7 L327.4 598.3 L328.8 591.8 L330.2 585.3 L331.7 578.7 L333.1 572.0 L334.6 565.2 L336.1 558.3 L337.7 551.3 L339.2 544.3 L340.8 537.2 L342.4 529.9 L344.0 522.6 L345.6 515.1 L347.3 507.6 L349.0 499.9 L350.7 492.2 L352.5 484.3 L354.3 476.3 L356.1 468.2 L357.9 460.0 L359.8 451.6 L361.7 443.1 L363.6 434.5 L365.6 425.7 L366.8 420.3 M333.2 690.0 L333.9 686.9 L335.1 681.4 L336.2 675.9 L337.4 670.3 L338.6 664.6 L339.8 658.9 L341.0 653.2 L342.2 647.3 L343.5 641.4 L344.8 635.5 L346.0 629.5 L347.3 623.4 L348.6 617.2 L350.0 611.0 L351.3 604.7 L352.7 598.3 L354.1 591.8 L355.4 585.3 L356.9 578.7 L358.3 572.0 L359.8 565.2 L361.2 558.3 L362.7 551.3 L364.2 544.3 L365.8 537.2 L367.3 529.9 L368.9 522.6 L370.5 515.1 L372.2 507.6 L373.8 499.9 L375.5 492.2 L377.2 484.3 L378.9 476.3 L380.7 468.2 L382.5 460.0 L384.3 451.6 L386.2 443.1 L388.1 434.5 L390.0 425.7 L391.2 420.3 M371.1 690.0 L371.7 686.9 L372.8 681.4 L373.9 675.9 L375.1 670.3 L376.2 664.6 L377.4 658.9 L378.5 653.2 L379.7 647.3 L380.9 641.4 L382.2 635.5 L383.4 629.5 L384.6 623.4 L385.9 617.2 L387.2 611.0 L388.5 604.7 L389.8 598.3 L391.1 591.8 L392.4 585.3 L393.8 578.7 L395.2 572.0 L396.6 565.2 L398.0 558.3 L399.5 551.3 L400.9 544.3 L402.4 537.2 L403.9 529.9 L405.4 522.6 L407.0 515.1 L408.6 507.6 L410.2 499.9 L411.8 492.2 L413.4 484.3 L415.1 476.3 L416.8 468.2 L418.6 460.0 L420.3 451.6 L422.1 443.1 L423.9 434.5 L425.8 425.7 L426.9 420.3 M399.0 690.0 L399.6 686.9 L400.7 681.4 L401.8 675.9 L402.9 670.3 L404.0 664.6 L405.1 658.9 L406.3 653.2 L407.4 647.3 L408.6 641.4 L409.8 635.5 L411.0 629.5 L412.2 623.4 L413.4 617.2 L414.6 611.0 L415.9 604.7 L417.2 598.3 L418.5 591.8 L419.8 585.3 L421.1 578.7 L422.4 572.0 L423.8 565.2 L425.2 558.3 L426.6 551.3 L428.0 544.3 L429.4 537.2 L430.9 529.9 L432.4 522.6 L433.9 515.1 L435.4 507.6 L437.0 499.9 L438.6 492.2 L440.2 484.3 L441.8 476.3 L443.5 468.2 L445.1 460.0 L446.9 451.6 L448.6 443.1 L450.4 434.5 L452.2 425.7 L453.3 420.3 M421.4 690.0 L421.9 686.9 L423.0 681.4 L424.1 675.9 L425.1 670.3 L426.2 664.6 L427.3 658.9 L428.4 653.2 L429.5 647.3 L430.7 641.4 L431.8 635.5 L433.0 629.5 L434.2 623.4 L435.4 617.2 L436.6 611.0 L437.8 604.7 L439.1 598.3 L440.3 591.8 L441.6 585.3 L442.9 578.7 L444.2 572.0 L445.5 565.2 L446.9 558.3 L448.2 551.3 L449.6 544.3 L451.0 537.2 L452.5 529.9 L453.9 522.6 L455.4 515.1 L456.9 507.6 L458.4 499.9 L460.0 492.2 L461.5 484.3 L463.1 476.3 L464.7 468.2 L466.4 460.0 L468.1 451.6 L469.8 443.1 L471.5 434.5 L473.3 425.7 L474.4 420.3 M463.5 690.0 L464.1 686.9 L465.1 681.4 L466.1 675.9 L467.1 670.3 L468.1 664.6 L469.2 658.9 L470.2 653.2 L471.3 647.3 L472.4 641.4 L473.5 635.5 L474.6 629.5 L475.7 623.4 L476.8 617.2 L478.0 611.0 L479.2 604.7 L480.3 598.3 L481.5 591.8 L482.8 585.3 L484.0 578.7 L485.3 572.0 L486.5 565.2 L487.8 558.3 L489.1 551.3 L490.4 544.3 L491.8 537.2 L493.1 529.9 L494.5 522.6 L495.9 515.1 L497.4 507.6 L498.8 499.9 L500.3 492.2 L501.8 484.3 L503.3 476.3 L504.9 468.2 L506.4 460.0 L508.0 451.6 L509.7 443.1 L511.3 434.5 L513.0 425.7 L514.1 420.3 M494.7 690.0 L495.2 686.9 L496.2 681.4 L497.2 675.9 L498.1 670.3 L499.1 664.6 L500.1 658.9 L501.2 653.2 L502.2 647.3 L503.2 641.4 L504.3 635.5 L505.3 629.5 L506.4 623.4 L507.5 617.2 L508.6 611.0 L509.8 604.7 L510.9 598.3 L512.1 591.8 L513.2 585.3 L514.4 578.7 L515.6 572.0 L516.8 565.2 L518.1 558.3 L519.3 551.3 L520.6 544.3 L521.9 537.2 L523.2 529.9 L524.6 522.6 L525.9 515.1 L527.3 507.6 L528.7 499.9 L530.1 492.2 L531.6 484.3 L533.0 476.3 L534.5 468.2 L536.1 460.0 L537.6 451.6 L539.2 443.1 L540.8 434.5 L542.4 425.7 L543.4 420.3 M519.7 690.0 L520.2 686.9 L521.1 681.4 L522.1 675.9 L523.0 670.3 L524.0 664.6 L524.9 658.9 L525.9 653.2 L526.9 647.3 L527.9 641.4 L529.0 635.5 L530.0 629.5 L531.0 623.4 L532.1 617.2 L533.2 611.0 L534.3 604.7 L535.4 598.3 L536.5 591.8 L537.6 585.3 L538.8 578.7 L539.9 572.0 L541.1 565.2 L542.3 558.3 L543.5 551.3 L544.8 544.3 L546.0 537.2 L547.3 529.9 L548.6 522.6 L549.9 515.1 L551.3 507.6 L552.6 499.9 L554.0 492.2 L555.4 484.3 L556.8 476.3 L558.3 468.2 L559.8 460.0 L561.3 451.6 L562.8 443.1 L564.3 434.5 L565.9 425.7 L566.9 420.3 M540.6 690.0 L541.1 686.9 L542.0 681.4 L542.9 675.9 L543.9 670.3 L544.8 664.6 L545.7 658.9 L546.7 653.2 L547.7 647.3 L548.6 641.4 L549.6 635.5 L550.6 629.5 L551.6 623.4 L552.7 617.2 L553.7 611.0 L554.8 604.7 L555.9 598.3 L556.9 591.8 L558.0 585.3 L559.2 578.7 L560.3 572.0 L561.5 565.2 L562.6 558.3 L563.8 551.3 L565.0 544.3 L566.2 537.2 L567.5 529.9 L568.7 522.6 L570.0 515.1 L571.3 507.6 L572.6 499.9 L574.0 492.2 L575.4 484.3 L576.7 476.3 L578.2 468.2 L579.6 460.0 L581.1 451.6 L582.6 443.1 L584.1 434.5 L585.6 425.7 L586.6 420.3" stroke="#ff2aa8" stroke-width="1.4" stroke-dasharray="1.4 6.2" fill="none"/>
<text x="283.2" y="412.8" font-size="11.5" fill="#ee2a9a" stroke="#ee2a9a" stroke-width="0.35" text-anchor="middle">1</text>
<text x="336.8" y="412.8" font-size="11.5" fill="#ee2a9a" stroke="#ee2a9a" stroke-width="0.35" text-anchor="middle">2</text>
<text x="370.4" y="412.8" font-size="11.5" fill="#ee2a9a" stroke="#ee2a9a" stroke-width="0.35" text-anchor="middle">3</text>
<text x="395.2" y="412.8" font-size="11.5" fill="#ee2a9a" stroke="#ee2a9a" stroke-width="0.35" text-anchor="middle">4</text>
<text x="431.0" y="412.8" font-size="11.5" fill="#ee2a9a" stroke="#ee2a9a" stroke-width="0.35" text-anchor="middle">6</text>
<text x="457.4" y="412.8" font-size="11.5" fill="#ee2a9a" stroke="#ee2a9a" stroke-width="0.35" text-anchor="middle">8</text>
<text x="483.8" y="412.8" font-size="11.5" fill="#ee2a9a" stroke="#ee2a9a" stroke-width="0.35" text-anchor="middle">10</text>
<text x="523.4" y="412.8" font-size="11.5" fill="#ee2a9a" stroke="#ee2a9a" stroke-width="0.35" text-anchor="middle">15</text>
<text x="552.7" y="412.8" font-size="11.5" fill="#ee2a9a" stroke="#ee2a9a" stroke-width="0.35" text-anchor="middle">20</text>
<text x="576.5" y="412.8" font-size="11.5" fill="#ee2a9a" stroke="#ee2a9a" stroke-width="0.35" text-anchor="middle">25</text>
<polyline points="198.4,43.0 191.8,126.0 215.8,198.0 238.3,261.0 254.9,318.0 265.9,370.0 276.3,417.0 292.0,460.0 302.0,500.0 308.8,537.0 312.5,572.0 314.8,604.7 315.5,636.0 317.0,665.0 323.6,689.5" stroke="#ff3636" stroke-width="2.6" fill="none" stroke-linejoin="round"/>
<polyline points="184.8,43.0 190.7,126.0 215.4,198.0 238.3,261.0 254.9,318.0 265.3,370.0 260.4,417.0 244.5,460.0 248.4,500.0 277.2,537.0 301.0,572.0 314.4,604.7 315.0,635.5 316.3,665.0 317.2,677.8 321.8,689.5" stroke="#1a30ff" stroke-width="2.7" fill="none" stroke-linejoin="round"/>
<polyline points="100.7,58.1 103.5,66.7 106.3,75.3 109.1,83.7 111.8,91.9 114.5,100.1 117.3,108.1 120.0,116.0 122.6,123.8 125.3,131.5 127.9,139.1 130.6,146.5 133.2,153.9 135.8,161.2 138.3,168.4 140.9,175.4 143.4,182.4 145.9,189.3 148.4,196.1 150.9,202.8 153.4,209.5 155.8,216.0 158.2,222.5 160.6,228.9 163.0,235.3 165.4,241.5 167.7,247.7 170.1,253.8 172.4,259.9 174.7,265.8 177.0,271.8 179.2,277.6 181.5,283.4 183.7,289.1 185.9,294.8 188.1,300.4 190.2,305.9 192.4,311.4 194.5,316.9 196.6,322.3 198.7,327.6 200.8,332.9 202.8,338.1 204.8,343.3 206.9,348.4 208.9,353.5 210.8,358.5 212.8,363.5 214.7,368.4 216.6,373.3 218.5,378.2 220.4,383.0 222.3,387.7 224.1,392.5 226.0,397.1 227.8,401.8 229.5,406.4 231.3,410.9 233.1,415.5 234.8,420.0 236.5,424.4 238.2,428.8 239.9,433.2 241.5,437.5 243.2,441.8 244.8,446.1 246.4,450.4 248.0,454.6 249.6,458.7 251.1,462.9 252.6,467.0 254.2,471.1 255.7,475.1 257.1,479.1 258.6,483.1 260.1,487.1 261.5,491.0 262.9,494.9 264.3,498.8 265.7,502.6 267.1,506.5 268.4,510.2 269.7,514.0 271.1,517.8 272.4,521.5 273.6,525.2 274.9,528.8 276.2,532.5 277.4,536.1 278.6,539.7 279.9,543.2 281.1,546.8 282.2,550.3 283.4,553.8 284.6,557.3 285.7,560.7 286.8,564.2 288.0,567.6 289.1,570.9 290.2,574.3 291.2,577.7 292.3,581.0 293.4,584.3 294.4,587.6 295.4,590.8 296.4,594.1 297.4,597.3 298.4,600.5 299.4,603.7 299.7,604.7 309.6,635.5 316.5,665.0 323.1,689.5" stroke="#a6a6a6" stroke-width="2.8" fill="none" stroke-linejoin="round"/>
<rect x="386.2" y="46.5" width="204" height="91" fill="#fff"/>
<path d="M386.2 43 V137.5 H590" stroke="#222" stroke-width="1.5" fill="none"/>
<line x1="390" y1="52.6" x2="410" y2="52.6" stroke="#ff3838" stroke-width="3"/>
<text x="419.00" y="57.80" font-size="15.00" letter-spacing="2.09" fill="#111" stroke="#111" stroke-width="0.05">Temperature</text>
<line x1="390" y1="65.5" x2="410" y2="65.5" stroke="#2236f0" stroke-width="3"/>
<text x="419.00" y="70.70" font-size="15.00" letter-spacing="1.69" fill="#111" stroke="#111" stroke-width="0.05">Dewpoint</text>
<line x1="390" y1="78.5" x2="410" y2="78.5" stroke="#a6a6a6" stroke-width="3"/>
<text x="419.00" y="83.60" font-size="15.00" letter-spacing="2.06" fill="#111" stroke="#111" stroke-width="0.05">Parcel Trajectory</text>
<line x1="390" y1="91.4" x2="410" y2="91.4" stroke="#ff8a30" stroke-width="1.2"/>
<text x="419.00" y="96.50" font-size="15.00" letter-spacing="2.10" fill="#111" stroke="#111" stroke-width="0.05">Dry Adiabat</text>
<line x1="390" y1="104.4" x2="410" y2="104.4" stroke="#00dd00" stroke-width="1.2"/>
<text x="419.00" y="109.50" font-size="15.00" letter-spacing="2.01" fill="#111" stroke="#111" stroke-width="0.05">Wet Adiabat</text>
<line x1="390" y1="117.3" x2="410" y2="117.3" stroke="#22a4ff" stroke-width="1.2"/>
<text x="419.00" y="122.50" font-size="15.00" letter-spacing="1.96" fill="#111" stroke="#111" stroke-width="0.05">Isotherm</text>
<line x1="390" y1="130.3" x2="410" y2="130.3" stroke="#ff2cb4" stroke-width="1.8" stroke-dasharray="1.8 6.5"/>
<text x="419.00" y="135.50" font-size="15.00" letter-spacing="1.92" fill="#111" stroke="#111" stroke-width="0.05">Mixing Ratio</text>
<rect x="58.5" y="42" width="327.5" height="2" fill="#000"/>
<text x="27.70" y="48.90" font-size="16.30" letter-spacing="-0.30" stroke="#000" stroke-width="0.30">300</text>
<rect x="58.5" y="125" width="327.5" height="2" fill="#000"/>
<text x="27.70" y="132.03" font-size="16.30" letter-spacing="-0.30" stroke="#000" stroke-width="0.30">350</text>
<rect x="58.5" y="197" width="532.5" height="2" fill="#000"/>
<text x="27.70" y="204.05" font-size="16.30" letter-spacing="-0.30" stroke="#000" stroke-width="0.30">400</text>
<rect x="58.5" y="261" width="532.5" height="2" fill="#000"/>
<text x="27.70" y="267.57" font-size="16.30" letter-spacing="-0.30" stroke="#000" stroke-width="0.30">450</text>
<rect x="58.5" y="317" width="532.5" height="2" fill="#000"/>
<text x="27.70" y="324.39" font-size="16.30" letter-spacing="-0.30" stroke="#000" stroke-width="0.30">500</text>
<rect x="58.5" y="369" width="532.5" height="2" fill="#000"/>
<text x="27.70" y="375.79" font-size="16.30" letter-spacing="-0.30" stroke="#000" stroke-width="0.30">550</text>
<rect x="58.5" y="416" width="532.5" height="2" fill="#000"/>
<text x="27.70" y="422.71" font-size="16.30" letter-spacing="-0.30" stroke="#000" stroke-width="0.30">600</text>
<rect x="58.5" y="459" width="532.5" height="2" fill="#000"/>
<text x="27.70" y="465.88" font-size="16.30" letter-spacing="-0.30" stroke="#000" stroke-width="0.30">650</text>
<rect x="58.5" y="499" width="532.5" height="2" fill="#000"/>
<text x="27.70" y="505.85" font-size="16.30" letter-spacing="-0.30" stroke="#000" stroke-width="0.30">700</text>
<rect x="58.5" y="536" width="532.5" height="2" fill="#000"/>
<text x="27.70" y="543.06" font-size="16.30" letter-spacing="-0.30" stroke="#000" stroke-width="0.30">750</text>
<rect x="58.5" y="571" width="532.5" height="2" fill="#000"/>
<text x="27.70" y="577.86" font-size="16.30" letter-spacing="-0.30" stroke="#000" stroke-width="0.30">800</text>
<rect x="58.5" y="604" width="532.5" height="2" fill="#000"/>
<text x="27.70" y="610.56" font-size="16.30" letter-spacing="-0.30" stroke="#000" stroke-width="0.30">850</text>
<rect x="58.5" y="634" width="532.5" height="2" fill="#000"/>
<text x="27.70" y="641.38" font-size="16.30" letter-spacing="-0.30" stroke="#000" stroke-width="0.30">900</text>
<rect x="58.5" y="664" width="532.5" height="2" fill="#000"/>
<text x="27.70" y="670.54" font-size="16.30" letter-spacing="-0.30" stroke="#000" stroke-width="0.30">950</text>
<rect x="63" y="42" width="2" height="649" fill="#000"/>
<rect x="590" y="42" width="2" height="649" fill="#000"/>
<rect x="63" y="689" width="529" height="2" fill="#000"/>
<rect x="63" y="42" width="529" height="2" fill="#000"/>
<rect x="43.5" y="702.6" width="10.5" height="1.3" fill="#222"/>
<text x="57.50" y="708.60" font-size="15.80" letter-spacing="3.40" fill="#222" stroke="#222" stroke-width="0.30">40</text>
<rect x="109.3" y="702.6" width="10.5" height="1.3" fill="#222"/>
<text x="123.30" y="708.60" font-size="15.80" letter-spacing="3.40" fill="#222" stroke="#222" stroke-width="0.30">30</text>
<rect x="175.1" y="702.6" width="10.5" height="1.3" fill="#222"/>
<text x="189.10" y="708.60" font-size="15.80" letter-spacing="3.40" fill="#222" stroke="#222" stroke-width="0.30">20</text>
<rect x="240.9" y="702.6" width="10.5" height="1.3" fill="#222"/>
<text x="254.90" y="708.60" font-size="15.80" letter-spacing="3.40" fill="#222" stroke="#222" stroke-width="0.30">10</text>
<text x="319.70" y="708.60" font-size="15.80" fill="#222" stroke="#222" stroke-width="0.30">0</text>
<text x="379.50" y="708.60" font-size="15.80" letter-spacing="3.40" fill="#222" stroke="#222" stroke-width="0.30">10</text>
<text x="445.30" y="708.60" font-size="15.80" letter-spacing="3.40" fill="#222" stroke="#222" stroke-width="0.30">20</text>
<text x="511.10" y="708.60" font-size="15.80" letter-spacing="3.40" fill="#222" stroke="#222" stroke-width="0.30">30</text>
<text x="184.90" y="727.10" font-size="18.50" letter-spacing="3.15" fill="#222" stroke="#222" stroke-width="0.30">Dewpoint / Temperature (°C)</text>
<rect x="592" y="185.3" width="5" height="1.2" fill="#555"/>
<text x="601.00" y="191.90" font-size="16.00" fill="#222" stroke="#222" stroke-width="0.30">7</text>
<rect x="592" y="264.8" width="5" height="1.2" fill="#555"/>
<text x="601.00" y="271.40" font-size="16.00" fill="#222" stroke="#222" stroke-width="0.30">6</text>
<rect x="592" y="341.9" width="5" height="1.2" fill="#555"/>
<text x="601.00" y="348.50" font-size="16.00" fill="#222" stroke="#222" stroke-width="0.30">5</text>
<rect x="592" y="416.6" width="5" height="1.2" fill="#555"/>
<text x="601.00" y="423.20" font-size="16.00" fill="#222" stroke="#222" stroke-width="0.30">4</text>
<rect x="592" y="488.8" width="5" height="1.2" fill="#555"/>
<text x="601.00" y="495.40" font-size="16.00" fill="#222" stroke="#222" stroke-width="0.30">3</text>
<rect x="592" y="559.7" width="5" height="1.2" fill="#555"/>
<text x="601.00" y="566.30" font-size="16.00" fill="#222" stroke="#222" stroke-width="0.30">2</text>
<rect x="592" y="629.3" width="5" height="1.2" fill="#555"/>
<text x="601.00" y="635.90" font-size="16.00" fill="#222" stroke="#222" stroke-width="0.30">1</text>
<rect x="592" y="685.8" width="8" height="1.2" fill="#555"/>
<text x="611.00" y="691.70" font-size="16.00" letter-spacing="-0.05" fill="#d0d0d0" stroke="#d0d0d0" stroke-width="0.30">HKN</text>
<text x="609.70" y="691.70" font-size="16.00" fill="#222" stroke="#222" stroke-width="0.30">LCL</text>
<g transform="translate(0 0) rotate(-90 633.5 538.8)"><text x="633.50" y="538.80" font-size="21.00" letter-spacing="3.31" fill="#fbd9ec">Mixing Ratio (g/kg)</text></g>
<g transform="rotate(-90 628.8 506.8)"><text x="628.80" y="506.80" font-size="16.00" letter-spacing="2.08" fill="#222" stroke="#222" stroke-width="0.30">Mixing Ratio (g/kg)</text></g>
<text x="30.80" y="18.60" font-size="15.70" letter-spacing="1.15" fill="#222" stroke="#222" stroke-width="0.30">hPa</text>
<text x="92.75" y="28.00" font-size="18.50" letter-spacing="3.39" stroke="#000" stroke-width="0.30">44°49′N 20°17′E 122m ASL</text>
<text x="596.70" y="18.70" font-size="16.00" letter-spacing="2.30" fill="#222" stroke="#222" stroke-width="0.30">km</text>
<text x="595.90" y="39.90" font-size="16.00" letter-spacing="-0.30" fill="#222" stroke="#222" stroke-width="0.30">ASL</text>
<text x="653.30" y="28.00" font-size="18.50" letter-spacing="3.17" stroke="#000" stroke-width="0.30">11.01.2026 12GMT (Base: 06)</text>
<rect x="681" y="43" width="1.6" height="647" fill="#555"/>
<path d="M681.8 42.9 L649.6 40.8 M649.6 40.8 L651.2 28.1 M654.6 40.9 L655.3 35.3" stroke="#22dd22" stroke-width="1.4" fill="none" stroke-linecap="round"/>
<rect x="679.8" y="40.9" width="4" height="4" fill="#22dd22"/>
<path d="M681.8 198.3 L653.8 212.5 M653.8 212.5 L647.1 201.0" stroke="#88e030" stroke-width="1.4" fill="none" stroke-linecap="round"/>
<rect x="679.8" y="196.3" width="4" height="4" fill="#88e030"/>
<path d="M681.8 318.3 L650.6 310.6 M650.6 310.6 L654.5 298.0 M655.5 311.7 L657.3 306.1" stroke="#22dd22" stroke-width="1.4" fill="none" stroke-linecap="round"/>
<rect x="679.8" y="316.3" width="4" height="4" fill="#22dd22"/>
<path d="M681.9 500.0 L663.3 475.5 M663.3 475.5 L674.4 467.7 M666.0 478.7 L671.1 475.3" stroke="#22dd22" stroke-width="1.4" fill="none" stroke-linecap="round"/>
<rect x="679.9" y="498.0" width="4" height="4" fill="#22dd22"/>
<path d="M681.7 604.9 L673.4 575.3 M673.4 575.3 L686.2 572.4 M675.4 579.1 L687.4 576.2" stroke="#22cc99" stroke-width="1.4" fill="none" stroke-linecap="round"/>
<rect x="679.7" y="602.9" width="4" height="4" fill="#22cc99"/>
<path d="M681.7 635.5 L663.9 610.6 M663.9 610.6 L674.4 603.6 M666.8 614.5 L671.5 611.2" stroke="#22dd22" stroke-width="1.4" fill="none" stroke-linecap="round"/>
<rect x="679.7" y="633.5" width="4" height="4" fill="#22dd22"/>
<path d="M681.7 650.2 L657.2 631.7 M657.2 631.7 L665.8 621.2 M660.0 634.5 L664.8 628.8" stroke="#22dd22" stroke-width="1.4" fill="none" stroke-linecap="round"/>
<rect x="679.7" y="648.2" width="4" height="4" fill="#22dd22"/>
<path d="M681.7 690.0 L650.5 683.3 M654.9 684.2 L656.2 678.5" stroke="#e6d030" stroke-width="1.4" fill="none" stroke-linecap="round"/>
<rect x="679.7" y="688.0" width="4" height="4" fill="#e6d030"/>
<rect x="727.6" y="43.6" width="181" height="172" fill="none" stroke="#111" stroke-width="1.5"/>
<clipPath id="hc"><rect x="728" y="44" width="180" height="171"/></clipPath><g clip-path="url(#hc)">
<ellipse cx="818.2" cy="129.4" rx="30.3" ry="28.7" fill="none" stroke="#999" stroke-width="1"/>
<ellipse cx="818.2" cy="129.4" rx="60.6" ry="57.4" fill="none" stroke="#999" stroke-width="1"/>
<ellipse cx="818.2" cy="129.4" rx="90.9" ry="86.1" fill="none" stroke="#999" stroke-width="1"/>
</g>
<line x1="728" y1="129.4" x2="908" y2="129.4" stroke="#111" stroke-width="1.4"/>
<line x1="818.2" y1="44" x2="818.2" y2="215" stroke="#111" stroke-width="1.4"/>
<path d="M737.4 126.8 V132.0 M815.6 52.9 H820.8 M747.5 126.8 V132.0 M815.6 62.5 H820.8 M757.6 126.8 V132.0 M815.6 72.0 H820.8 M767.7 126.8 V132.0 M815.6 81.6 H820.8 M777.8 126.8 V132.0 M815.6 91.2 H820.8 M787.9 126.8 V132.0 M815.6 100.7 H820.8 M798.0 126.8 V132.0 M815.6 110.3 H820.8 M808.1 126.8 V132.0 M815.6 119.8 H820.8 M828.3 126.8 V132.0 M815.6 139.0 H820.8 M838.4 126.8 V132.0 M815.6 148.5 H820.8 M848.5 126.8 V132.0 M815.6 158.1 H820.8 M858.6 126.8 V132.0 M815.6 167.6 H820.8 M868.7 126.8 V132.0 M815.6 177.2 H820.8 M878.8 126.8 V132.0 M815.6 186.8 H820.8 M888.9 126.8 V132.0 M815.6 196.3 H820.8 M899.0 126.8 V132.0 M815.6 205.9 H820.8" stroke="#111" stroke-width="1.3"/>
<text x="732.60" y="56.80" font-size="14.50" letter-spacing="1.30" fill="#111" stroke="#111" stroke-width="0.30">kt</text>
<g transform="rotate(-45 797.3 148.6)"><text x="787.80" y="153.60" font-size="14.50" letter-spacing="2.90" fill="#a8a8a8" stroke="#a8a8a8" stroke-width="0.30">15</text></g>
<g transform="rotate(-45 774.9 170.1)"><text x="765.40" y="175.10" font-size="14.50" letter-spacing="2.90" fill="#a8a8a8" stroke="#a8a8a8" stroke-width="0.30">30</text></g>
<g transform="rotate(-45 754.8 189.2)"><text x="745.30" y="194.20" font-size="14.50" letter-spacing="2.90" fill="#a8a8a8" stroke="#a8a8a8" stroke-width="0.30">45</text></g>
<path d="M818.2 129.2 L822.6 138.2 L823.5 142.7" stroke="#111" stroke-width="1.5" fill="none"/>
<rect x="820.2" y="135.5" width="5" height="5" fill="#111"/>
<path d="M825.7 130.9 L838.1 144 L828.4 164 L840.3 146 L843.4 135.6 L834.1 121" stroke="#111" stroke-width="1.5" fill="none" stroke-linejoin="miter"/>
<rect x="823.7" y="128.9" width="4" height="4" fill="#111"/>
<rect x="832.1" y="119" width="4" height="4" fill="#111"/>
<rect x="727.5" y="232.8" width="200" height="469.7" fill="none" stroke="#222" stroke-width="1.5"/>
<line x1="727.5" y1="301.5" x2="927.5" y2="301.5" stroke="#222" stroke-width="1.5"/>
<line x1="727.5" y1="456.8" x2="927.5" y2="456.8" stroke="#222" stroke-width="1.5"/>
<line x1="727.5" y1="591.0" x2="927.5" y2="591.0" stroke="#222" stroke-width="1.5"/>
<text x="733.00" y="251.50" font-size="15.80" fill="#111">K</text>
<text x="874.00" y="251.50" font-size="15.80" letter-spacing="3.60" fill="#111">10</text>
<text x="733.00" y="272.80" font-size="15.80" letter-spacing="2.14" fill="#111">Totals Totals</text>
<text x="874.00" y="272.80" font-size="15.80" letter-spacing="1.30" fill="#111">51</text>
<text x="733.00" y="294.20" font-size="15.80" letter-spacing="2.60" fill="#111">PW (cm)</text>
<text x="874.00" y="294.20" font-size="15.80" letter-spacing="2.40" fill="#111">0.84</text>
<text x="787.70" y="320.70" font-size="15.80" letter-spacing="1.87" fill="#111">Surface</text>
<text x="733.00" y="341.90" font-size="15.80" letter-spacing="2.43" fill="#111">Temp (°C)</text>
<text x="874.00" y="341.90" font-size="15.80" letter-spacing="3.27" fill="#111">−0.5</text>
<text x="733.00" y="363.30" font-size="15.80" letter-spacing="2.03" fill="#111">Dewp (°C)</text>
<text x="874.00" y="363.30" font-size="15.80" letter-spacing="3.27" fill="#111">−0.9</text>
<text x="733" y="384.7" font-size="15" font-weight="bold" font-style="italic" fill="#111">θ</text>
<text x="742" y="385.7" font-size="8" font-weight="bold" fill="#111">E</text>
<text x="748.60" y="384.70" font-size="15.80" letter-spacing="1.90" fill="#111">(K)</text>
<text x="874.00" y="384.70" font-size="15.80" letter-spacing="2.70" fill="#111">282</text>
<text x="733.00" y="406.30" font-size="15.80" letter-spacing="1.97" fill="#111">Lifted Index</text>
<text x="874.00" y="406.30" font-size="15.80" fill="#111">9</text>
<text x="733.00" y="427.70" font-size="15.80" letter-spacing="1.63" fill="#111">CAPE (J)</text>
<text x="874.00" y="427.70" font-size="15.80" fill="#111">0</text>
<text x="733.00" y="449.10" font-size="15.80" letter-spacing="1.98" fill="#111">CIN (J)</text>
<text x="874.00" y="449.10" font-size="15.80" fill="#111">0</text>
<text x="754.00" y="475.40" font-size="15.80" letter-spacing="1.97" fill="#111">Most Unstable</text>
<text x="733.00" y="497.00" font-size="15.80" letter-spacing="2.41" fill="#111">Pressure (mb)</text>
<text x="874.00" y="497.00" font-size="15.80" letter-spacing="2.80" fill="#111">700</text>
<text x="733" y="518.6" font-size="15" font-weight="bold" font-style="italic" fill="#111">θ</text>
<text x="742" y="519.6" font-size="8" font-weight="bold" fill="#111">E</text>
<text x="759.00" y="518.60" font-size="15.80" letter-spacing="2.25" fill="#111">(K)</text>
<text x="874.00" y="518.60" font-size="15.80" letter-spacing="2.80" fill="#111">288</text>
<text x="733.00" y="540.00" font-size="15.80" letter-spacing="1.94" fill="#111">Lifted Index</text>
<text x="874.00" y="540.00" font-size="15.80" fill="#111">5</text>
<text x="733.00" y="561.40" font-size="15.80" letter-spacing="1.69" fill="#111">CAPE (J)</text>
<text x="874.00" y="561.40" font-size="15.80" fill="#111">0</text>
<text x="733.00" y="583.00" font-size="15.80" letter-spacing="2.00" fill="#111">CIN (J)</text>
<text x="874.00" y="583.00" font-size="15.80" fill="#111">0</text>
<text x="772.00" y="609.00" font-size="15.80" letter-spacing="1.85" fill="#111">Hodograph</text>
<text x="733.00" y="630.40" font-size="15.80" letter-spacing="-1.00" fill="#111">EH</text>
<text x="874.00" y="630.40" font-size="15.80" letter-spacing="0.40" fill="#111">21</text>
<text x="733.00" y="652.00" font-size="15.80" letter-spacing="0.17" fill="#111">SREH</text>
<text x="874.00" y="652.00" font-size="15.80" letter-spacing="2.40" fill="#111">20</text>
<text x="733.00" y="673.60" font-size="15.80" letter-spacing="1.74" fill="#111">StmDir</text>
<text x="874.00" y="673.60" font-size="15.80" letter-spacing="2.43" fill="#111">337°</text>
<text x="733.00" y="695.00" font-size="15.80" letter-spacing="2.46" fill="#111">StmSpd (kt)</text>
<text x="874.00" y="695.00" font-size="15.80" fill="#111">7</text>
<text x="715.00" y="728.50" font-size="21.00" fill="#111" stroke="#111" stroke-width="0.30">©</text>
<text x="738.90" y="726.60" font-size="19.00" letter-spacing="2.39" fill="#111" stroke="#111" stroke-width="0.80">weatheronline.co.uk</text>
</svg></body></html>
